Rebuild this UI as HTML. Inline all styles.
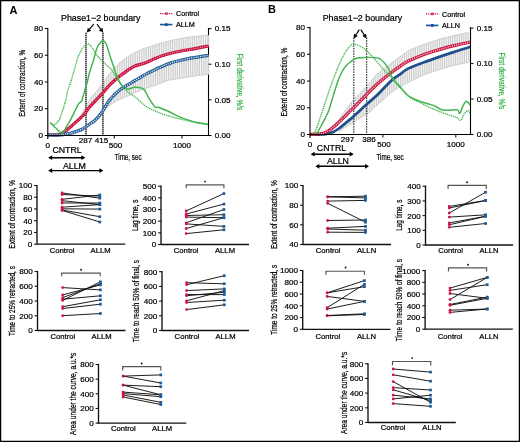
<!DOCTYPE html>
<html><head><meta charset="utf-8"><style>
html,body{margin:0;padding:0;background:#fff;}
body{width:520px;height:442px;overflow:hidden;font-family:"Liberation Sans", sans-serif;}
svg{display:block;will-change:transform;}
</style></head><body>
<svg xmlns="http://www.w3.org/2000/svg" width="520" height="442" viewBox="0 0 520 442" font-family='"Liberation Sans", sans-serif'>
<rect x="0" y="0" width="520" height="442" fill="#fff"/>
<text x="9.6" y="13.9" font-size="11" text-anchor="start" fill="#000" font-weight="bold">A</text>
<text x="267.9" y="12.9" font-size="11" text-anchor="start" fill="#000" font-weight="bold">B</text>
<line x1="208.5" y1="28" x2="208.5" y2="136" stroke="#000" stroke-width="1.1"/>
<path d="M78 120.5 L80.2 116.43 L82.4 112.37 L84.6 108.63 L86.8 104.93 L89 101.2 L91.2 97.43 L93.4 94.8 L95.6 92.6 L97.8 89.89 L100 86.95 L102.2 84 L104.4 80.84 L106.6 77.51 L108.8 74.57 L111 71.94 L113.2 69.32 L115.4 67.1 L117.6 64.9 L119.8 62.87 L122 61.1 L124.2 59.32 L126.4 57.75 L128.6 56.21 L130.8 54.77 L133 53.58 L135.2 52.41 L137.4 51.39 L139.6 50.37 L141.8 49.34 L144 48.42 L146.2 47.75 L148.4 47.08 L150.6 46.39 L152.8 45.63 L155 44.88 L157.2 44.24 L159.4 43.67 L161.6 43.1 L163.8 42.48 L166 41.85 L168.2 41.21 L170.4 40.58 L172.6 40.03 L174.8 39.63 L177 39.23 L179.2 38.82 L181.4 38.42 L183.6 38.02 L185.8 37.61 L188 37.25 L190.2 37.02 L192.4 36.79 L194.6 36.56 L196.8 36.33 L199 36.1 L201.2 35.87 L203.4 35.64 L205.6 35.41 L207.8 35.18 L207.8 46.15 L205.6 46.57 L203.4 46.99 L201.2 47.41 L199 47.84 L196.8 48.26 L194.6 48.67 L192.4 49.05 L190.2 49.43 L188 49.81 L185.8 50.19 L183.6 50.58 L181.4 50.96 L179.2 51.37 L177 51.85 L174.8 52.33 L172.6 52.8 L170.4 53.37 L168.2 54.01 L166 54.64 L163.8 55.27 L161.6 56.03 L159.4 56.85 L157.2 57.68 L155 58.56 L152.8 59.54 L150.6 60.53 L148.4 61.45 L146.2 62.35 L144 63.25 L141.8 63.98 L139.6 64.63 L137.4 65.29 L135.2 65.94 L133 67.12 L130.8 68.36 L128.6 69.81 L126.4 71.35 L124.2 72.89 L122 74.52 L119.8 76.14 L117.6 77.95 L115.4 79.89 L113.2 81.84 L111 83.78 L108.8 86.11 L106.6 88.61 L104.4 91.07 L102.2 93.47 L100 95.86 L97.8 98.23 L95.6 100.58 L93.4 102.94 L91.2 105.34 L89 107.83 L86.8 110.74 L84.6 113.53 L82.4 116.18 L80.2 118.19 L78 120.19 Z" fill="#f4f4f4"/>
<path d="M78 120.5V120.19M80.2 116.43V118.19M82.4 112.37V116.18M84.6 108.63V113.53M86.8 104.93V110.74M89 101.2V107.83M91.2 97.43V105.34M93.4 94.8V102.94M95.6 92.6V100.58M97.8 89.89V98.23M100 86.95V95.86M102.2 84V93.47M104.4 80.84V91.07M106.6 77.51V88.61M108.8 74.57V86.11M111 71.94V83.78M113.2 69.32V81.84M115.4 67.1V79.89M117.6 64.9V77.95M119.8 62.87V76.14M122 61.1V74.52M124.2 59.32V72.89M126.4 57.75V71.35M128.6 56.21V69.81M130.8 54.77V68.36M133 53.58V67.12M135.2 52.41V65.94M137.4 51.39V65.29M139.6 50.37V64.63M141.8 49.34V63.98M144 48.42V63.25M146.2 47.75V62.35M148.4 47.08V61.45M150.6 46.39V60.53M152.8 45.63V59.54M155 44.88V58.56M157.2 44.24V57.68M159.4 43.67V56.85M161.6 43.1V56.03M163.8 42.48V55.27M166 41.85V54.64M168.2 41.21V54.01M170.4 40.58V53.37M172.6 40.03V52.8M174.8 39.63V52.33M177 39.23V51.85M179.2 38.82V51.37M181.4 38.42V50.96M183.6 38.02V50.58M185.8 37.61V50.19M188 37.25V49.81M190.2 37.02V49.43M192.4 36.79V49.05M194.6 36.56V48.67M196.8 36.33V48.26M199 36.1V47.84M201.2 35.87V47.41M203.4 35.64V46.99M205.6 35.41V46.57M207.8 35.18V46.15" stroke="#c9c9c9" stroke-width="1.0" fill="none"/>
<path d="M78 120.5 C79.1 118.52 82.4 112.48 84.6 108.63 C86.8 104.79 89 100.55 91.2 97.43 C93.4 94.31 95.6 92.66 97.8 89.89 C100 87.13 102.2 83.83 104.4 80.84 C106.6 77.84 108.8 74.6 111 71.94 C113.2 69.29 115.4 67 117.6 64.9 C119.8 62.8 122 61.01 124.2 59.32 C126.4 57.64 128.6 56.1 130.8 54.77 C133 53.45 135.2 52.45 137.4 51.39 C139.6 50.33 141.8 49.25 144 48.42 C146.2 47.59 148.4 47.09 150.6 46.39 C152.8 45.7 155 44.89 157.2 44.24 C159.4 43.59 161.6 43.09 163.8 42.48 C166 41.87 168.2 41.12 170.4 40.58 C172.6 40.03 174.8 39.65 177 39.23 C179.2 38.8 181.4 38.38 183.6 38.02 C185.8 37.65 188 37.3 190.2 37.02 C192.4 36.74 194.6 36.56 196.8 36.33 C199 36.1 201.57 35.83 203.4 35.64 C205.23 35.45 207.07 35.26 207.8 35.18" fill="none" stroke="#c2c2c2" stroke-width="0.7"/>
<path d="M96 119.62 L98.2 116.59 L100.4 113.55 L102.6 111.45 L104.8 109.56 L107 107.69 L109.2 105.91 L111.4 104.13 L113.6 102.64 L115.8 101.35 L118 100.06 L120.2 99.15 L122.4 98.26 L124.6 97.38 L126.8 96.51 L129 95.64 L131.2 94.6 L133.4 93.5 L135.6 92.42 L137.8 91.53 L140 90.64 L142.2 89.76 L144.4 88.89 L146.6 88.02 L148.8 87.36 L151 86.74 L153.2 86.11 L155.4 85.44 L157.6 84.56 L159.8 83.67 L162 82.79 L164.2 81.91 L166.4 81.02 L168.6 80.34 L170.8 79.95 L173 79.56 L175.2 79.17 L177.4 78.79 L179.6 78.4 L181.8 78.01 L184 77.62 L186.2 77.23 L188.4 76.88 L190.6 76.58 L192.8 76.29 L195 75.99 L197.2 75.7 L199.4 75.4 L201.6 75.11 L203.8 74.81 L206 74.51 L208.2 74.3 L208.2 55.37 L206 55.73 L203.8 56.1 L201.6 56.46 L199.4 56.83 L197.2 57.19 L195 57.56 L192.8 57.92 L190.6 58.29 L188.4 58.65 L186.2 59.11 L184 59.64 L181.8 60.17 L179.6 60.7 L177.4 61.23 L175.2 61.76 L173 62.29 L170.8 62.96 L168.6 63.85 L166.4 64.73 L164.2 65.61 L162 66.5 L159.8 67.4 L157.6 68.45 L155.4 69.51 L153.2 70.56 L151 71.62 L148.8 72.68 L146.6 73.78 L144.4 75.07 L142.2 76.36 L140 77.63 L137.8 78.89 L135.6 80.16 L133.4 81.47 L131.2 82.8 L129 84.13 L126.8 85.46 L124.6 86.8 L122.4 88.31 L120.2 89.81 L118 91.52 L115.8 93.52 L113.6 95.53 L111.4 98.06 L109.2 100.67 L107 103.98 L104.8 107.62 L102.6 111.13 L100.4 114.07 L98.2 116.9 L96 119.1 Z" fill="#f4f4f4"/>
<path d="M96 119.62V119.1M98.2 116.59V116.9M100.4 113.55V114.07M102.6 111.45V111.13M104.8 109.56V107.62M107 107.69V103.98M109.2 105.91V100.67M111.4 104.13V98.06M113.6 102.64V95.53M115.8 101.35V93.52M118 100.06V91.52M120.2 99.15V89.81M122.4 98.26V88.31M124.6 97.38V86.8M126.8 96.51V85.46M129 95.64V84.13M131.2 94.6V82.8M133.4 93.5V81.47M135.6 92.42V80.16M137.8 91.53V78.89M140 90.64V77.63M142.2 89.76V76.36M144.4 88.89V75.07M146.6 88.02V73.78M148.8 87.36V72.68M151 86.74V71.62M153.2 86.11V70.56M155.4 85.44V69.51M157.6 84.56V68.45M159.8 83.67V67.4M162 82.79V66.5M164.2 81.91V65.61M166.4 81.02V64.73M168.6 80.34V63.85M170.8 79.95V62.96M173 79.56V62.29M175.2 79.17V61.76M177.4 78.79V61.23M179.6 78.4V60.7M181.8 78.01V60.17M184 77.62V59.64M186.2 77.23V59.11M188.4 76.88V58.65M190.6 76.58V58.29M192.8 76.29V57.92M195 75.99V57.56M197.2 75.7V57.19M199.4 75.4V56.83M201.6 75.11V56.46M203.8 74.81V56.1M206 74.51V55.73M208.2 74.3V55.37" stroke="#c9c9c9" stroke-width="1.0" fill="none"/>
<path d="M96 119.62 C97.1 118.26 100.4 113.74 102.6 111.45 C104.8 109.17 107 107.6 109.2 105.91 C111.4 104.23 113.6 102.62 115.8 101.35 C118 100.07 120.2 99.22 122.4 98.26 C124.6 97.31 126.8 96.61 129 95.64 C131.2 94.66 133.4 93.4 135.6 92.42 C137.8 91.44 140 90.61 142.2 89.76 C144.4 88.92 146.6 88.08 148.8 87.36 C151 86.64 153.2 86.2 155.4 85.44 C157.6 84.68 159.8 83.64 162 82.79 C164.2 81.94 166.4 80.94 168.6 80.34 C170.8 79.74 173 79.56 175.2 79.17 C177.4 78.79 179.6 78.39 181.8 78.01 C184 77.63 186.2 77.21 188.4 76.88 C190.6 76.54 192.8 76.29 195 75.99 C197.2 75.7 199.4 75.39 201.6 75.11 C203.8 74.82 207.1 74.43 208.2 74.3 C209.3 74.17 208.2 74.3 208.2 74.3" fill="none" stroke="#c2c2c2" stroke-width="0.7"/>
<path d="M208.5 35.11V46.02M208.5 55.32V74.3" stroke="#cfcfcf" stroke-width="1.0" fill="none"/>
<line x1="86" y1="32.8" x2="86" y2="135.5" stroke="#b4b4b4" stroke-width="1.6"/>
<line x1="86" y1="32.8" x2="86" y2="135.5" stroke="#4a4a4a" stroke-width="1.6" stroke-dasharray="1.1 0.9"/>
<line x1="102.9" y1="32.8" x2="102.9" y2="135.5" stroke="#b4b4b4" stroke-width="1.6"/>
<line x1="102.9" y1="32.8" x2="102.9" y2="135.5" stroke="#4a4a4a" stroke-width="1.6" stroke-dasharray="1.1 0.9"/>
<path d="M47.5 135 C48.75 134.98 52.92 135 55 134.9 C57.08 134.8 58.22 135.07 60 134.4 C61.78 133.73 63.82 132.27 65.7 130.9 C67.58 129.53 69.42 127.83 71.3 126.2 C73.18 124.57 75.12 122.8 77 121.1 C78.88 119.4 81.1 117.55 82.6 116 C84.1 114.45 84.87 113.25 86 111.8 C87.13 110.35 88.08 108.87 89.4 107.3 C90.72 105.73 92.2 104.23 93.9 102.4 C95.6 100.57 97.72 98.33 99.6 96.3 C101.48 94.27 103.42 92.18 105.2 90.2 C106.98 88.22 108.02 86.63 110.3 84.4 C112.58 82.17 116.52 78.77 118.9 76.8 C121.28 74.83 122.72 73.95 124.6 72.6 C126.48 71.25 128.47 69.8 130.2 68.7 C131.93 67.6 132.8 66.87 135 66 C137.2 65.13 140.9 64.37 143.4 63.5 C145.9 62.63 147.93 61.68 150 60.8 C152.07 59.92 153.63 59.08 155.8 58.2 C157.97 57.32 160.35 56.37 163 55.5 C165.65 54.63 168.87 53.72 171.7 53 C174.53 52.28 177.37 51.72 180 51.2 C182.63 50.68 185 50.33 187.5 49.9 C190 49.47 191.48 49.25 195 48.6 C198.52 47.95 206.33 46.43 208.6 46" fill="none" stroke="#cc1440" stroke-width="3.2"/>
<path d="M47.5 135 C48.75 134.98 52.92 135 55 134.9 C57.08 134.8 58.22 135.07 60 134.4 C61.78 133.73 63.82 132.27 65.7 130.9 C67.58 129.53 69.42 127.83 71.3 126.2 C73.18 124.57 75.12 122.8 77 121.1 C78.88 119.4 81.1 117.55 82.6 116 C84.1 114.45 84.87 113.25 86 111.8 C87.13 110.35 88.08 108.87 89.4 107.3 C90.72 105.73 92.2 104.23 93.9 102.4 C95.6 100.57 97.72 98.33 99.6 96.3 C101.48 94.27 103.42 92.18 105.2 90.2 C106.98 88.22 108.02 86.63 110.3 84.4 C112.58 82.17 116.52 78.77 118.9 76.8 C121.28 74.83 122.72 73.95 124.6 72.6 C126.48 71.25 128.47 69.8 130.2 68.7 C131.93 67.6 132.8 66.87 135 66 C137.2 65.13 140.9 64.37 143.4 63.5 C145.9 62.63 147.93 61.68 150 60.8 C152.07 59.92 153.63 59.08 155.8 58.2 C157.97 57.32 160.35 56.37 163 55.5 C165.65 54.63 168.87 53.72 171.7 53 C174.53 52.28 177.37 51.72 180 51.2 C182.63 50.68 185 50.33 187.5 49.9 C190 49.47 191.48 49.25 195 48.6 C198.52 47.95 206.33 46.43 208.6 46" fill="none" stroke="#fff" stroke-width="0.9" stroke-dasharray="0.8 1.4" opacity="0.9"/>
<path d="M47.5 135 C49.58 135 56.97 135.15 60 135 C63.03 134.85 63.82 134.43 65.7 134.1 C67.58 133.77 69.42 133.47 71.3 133 C73.18 132.53 75.12 131.97 77 131.3 C78.88 130.63 81.1 129.75 82.6 129 C84.1 128.25 84.87 127.6 86 126.8 C87.13 126 88.08 125.13 89.4 124.2 C90.72 123.27 92.38 122.47 93.9 121.2 C95.42 119.93 96.98 118.37 98.5 116.6 C100.02 114.83 101.33 113.12 103 110.6 C104.67 108.08 106.78 103.97 108.5 101.5 C110.22 99.03 111.57 97.6 113.3 95.8 C115.03 94 117.02 92.2 118.9 90.7 C120.78 89.2 122.72 88.02 124.6 86.8 C126.48 85.58 128.47 84.45 130.2 83.4 C131.93 82.35 133.18 81.57 135 80.5 C136.82 79.43 139.12 78.15 141.1 77 C143.08 75.85 144.97 74.63 146.9 73.6 C148.83 72.57 150.52 71.85 152.7 70.8 C154.88 69.75 156.83 68.67 160 67.3 C163.17 65.93 167.12 64.02 171.7 62.6 C176.28 61.18 181.35 60.02 187.5 58.8 C193.65 57.58 205.08 55.88 208.6 55.3" fill="none" stroke="#1e5a96" stroke-width="3.2"/>
<path d="M47.5 135 C49.58 135 56.97 135.15 60 135 C63.03 134.85 63.82 134.43 65.7 134.1 C67.58 133.77 69.42 133.47 71.3 133 C73.18 132.53 75.12 131.97 77 131.3 C78.88 130.63 81.1 129.75 82.6 129 C84.1 128.25 84.87 127.6 86 126.8 C87.13 126 88.08 125.13 89.4 124.2 C90.72 123.27 92.38 122.47 93.9 121.2 C95.42 119.93 96.98 118.37 98.5 116.6 C100.02 114.83 101.33 113.12 103 110.6 C104.67 108.08 106.78 103.97 108.5 101.5 C110.22 99.03 111.57 97.6 113.3 95.8 C115.03 94 117.02 92.2 118.9 90.7 C120.78 89.2 122.72 88.02 124.6 86.8 C126.48 85.58 128.47 84.45 130.2 83.4 C131.93 82.35 133.18 81.57 135 80.5 C136.82 79.43 139.12 78.15 141.1 77 C143.08 75.85 144.97 74.63 146.9 73.6 C148.83 72.57 150.52 71.85 152.7 70.8 C154.88 69.75 156.83 68.67 160 67.3 C163.17 65.93 167.12 64.02 171.7 62.6 C176.28 61.18 181.35 60.02 187.5 58.8 C193.65 57.58 205.08 55.88 208.6 55.3" fill="none" stroke="#fff" stroke-width="1.4" stroke-dasharray="1.1 1.1" opacity="0.9"/>
<path d="M50.4 122.6 C50.83 122.88 52.2 124 53 124.3 C53.8 124.6 54.45 124.78 55.2 124.4 C55.95 124.02 56.7 123.02 57.5 122 C58.3 120.98 59.02 120.62 60 118.3 C60.98 115.98 62.45 111.12 63.4 108.1 C64.35 105.08 64.95 103.22 65.7 100.2 C66.45 97.18 66.97 93.37 67.9 90 C68.83 86.63 70.17 83.58 71.3 80 C72.43 76.42 73.57 72.32 74.7 68.5 C75.83 64.68 76.78 60.5 78.1 57.1 C79.42 53.7 81.1 50.25 82.6 48.1 C84.1 45.95 85.97 44.78 87.1 44.2 C88.23 43.62 88.52 43.97 89.4 44.6 C90.28 45.23 91.25 46.35 92.4 48 C93.55 49.65 94.7 52.38 96.3 54.5 C97.9 56.62 100.12 58.82 102 60.7 C103.88 62.58 105.92 64.18 107.6 65.8 C109.28 67.42 110.78 68.7 112.1 70.4 C113.42 72.1 114.37 74.12 115.5 76 C116.63 77.88 117.57 79.82 118.9 81.7 C120.23 83.58 121.98 85.6 123.5 87.3 C125.02 89 126.5 90.58 128 91.9 C129.5 93.22 131.33 94.37 132.5 95.2 C133.67 96.03 133.57 95.72 135 96.9 C136.43 98.08 139.12 100.63 141.1 102.3 C143.08 103.97 144.58 105.45 146.9 106.9 C149.22 108.35 151.53 109.52 155 111 C158.47 112.48 162.38 114.2 167.7 115.8 C173.02 117.4 180.52 119.2 186.9 120.6 C193.28 122 202.48 123.57 206 124.2 C209.52 124.83 207.67 124.37 208 124.4" fill="none" stroke="#3db54a" stroke-width="1.4" stroke-dasharray="1.2 0.8"/>
<path d="M50.4 122.8 C51.33 123.7 54.07 126.43 56 128.2 C57.93 129.97 60.2 133.73 62 133.4 C63.8 133.07 65.25 128.72 66.8 126.2 C68.35 123.68 69.8 121.13 71.3 118.3 C72.8 115.47 74.57 111.65 75.8 109.2 C77.03 106.75 77.75 104.92 78.7 103.6 C79.65 102.28 80.85 102.25 81.5 101.3 C82.15 100.35 82.13 99.4 82.6 97.9 C83.07 96.4 83.88 93.78 84.3 92.3 C84.72 90.82 84.6 90.72 85.1 89 C85.6 87.28 86.57 84.73 87.3 82 C88.03 79.27 88.47 76.23 89.5 72.6 C90.53 68.97 92.37 63.97 93.5 60.2 C94.63 56.43 95.47 52.53 96.3 50 C97.13 47.47 97.77 46.25 98.5 45 C99.23 43.75 99.95 43.22 100.7 42.5 C101.45 41.78 102.12 40.53 103 40.7 C103.88 40.87 105.13 41.95 106 43.5 C106.87 45.05 107.37 47.42 108.2 50 C109.03 52.58 110.07 56.17 111 59 C111.93 61.83 112.85 64.17 113.8 67 C114.75 69.83 115.65 73.37 116.7 76 C117.75 78.63 118.97 80.92 120.1 82.8 C121.23 84.68 122.37 86.27 123.5 87.3 C124.63 88.33 125.78 88.8 126.9 89 C128.02 89.2 128.88 88.78 130.2 88.5 C131.52 88.22 133.03 87.4 134.8 87.3 C136.57 87.2 139.17 87.42 140.8 87.9 C142.43 88.38 143.2 88.42 144.6 90.2 C146 91.98 147.47 95.82 149.2 98.6 C150.93 101.38 153.52 105.45 155 106.9 C156.48 108.35 155.98 106.62 158.1 107.3 C160.22 107.98 164.5 109.58 167.7 111 C170.9 112.42 174.1 114.37 177.3 115.8 C180.5 117.23 183.7 118.48 186.9 119.6 C190.1 120.72 192.98 121.7 196.5 122.5 C200.02 123.3 206.08 124.08 208 124.4" fill="none" stroke="#3db54a" stroke-width="1.45"/>
<line x1="47.8" y1="28" x2="47.8" y2="139" stroke="#000" stroke-width="1.1"/>
<line x1="47.8" y1="135.5" x2="208.5" y2="135.5" stroke="#000" stroke-width="1.1"/>
<line x1="44.9" y1="28.5" x2="47.8" y2="28.5" stroke="#000" stroke-width="1"/>
<text x="42.9" y="31.1" font-size="8.1" text-anchor="end" fill="#000" font-weight="normal" stroke="#000" stroke-width="0.22">80</text>
<line x1="44.9" y1="55.25" x2="47.8" y2="55.25" stroke="#000" stroke-width="1"/>
<text x="42.9" y="57.85" font-size="8.1" text-anchor="end" fill="#000" font-weight="normal" stroke="#000" stroke-width="0.22">60</text>
<line x1="44.9" y1="82" x2="47.8" y2="82" stroke="#000" stroke-width="1"/>
<text x="42.9" y="84.6" font-size="8.1" text-anchor="end" fill="#000" font-weight="normal" stroke="#000" stroke-width="0.22">40</text>
<line x1="44.9" y1="108.75" x2="47.8" y2="108.75" stroke="#000" stroke-width="1"/>
<text x="42.9" y="111.35" font-size="8.1" text-anchor="end" fill="#000" font-weight="normal" stroke="#000" stroke-width="0.22">20</text>
<line x1="44.9" y1="135.5" x2="47.8" y2="135.5" stroke="#000" stroke-width="1"/>
<text x="42.9" y="138.1" font-size="8.1" text-anchor="end" fill="#000" font-weight="normal" stroke="#000" stroke-width="0.22">0</text>
<line x1="208.5" y1="28.6" x2="211.5" y2="28.6" stroke="#000" stroke-width="1"/>
<text x="214.7" y="31.3" font-size="8.1" text-anchor="start" fill="#000" font-weight="normal" stroke="#000" stroke-width="0.22">0.15</text>
<line x1="208.5" y1="64.2" x2="211.5" y2="64.2" stroke="#000" stroke-width="1"/>
<text x="214.7" y="66.9" font-size="8.1" text-anchor="start" fill="#000" font-weight="normal" stroke="#000" stroke-width="0.22">0.10</text>
<line x1="208.5" y1="99.8" x2="211.5" y2="99.8" stroke="#000" stroke-width="1"/>
<text x="214.7" y="102.5" font-size="8.1" text-anchor="start" fill="#000" font-weight="normal" stroke="#000" stroke-width="0.22">0.05</text>
<line x1="208.5" y1="135.5" x2="211.5" y2="135.5" stroke="#000" stroke-width="1"/>
<text x="214.7" y="138.2" font-size="8.1" text-anchor="start" fill="#000" font-weight="normal" stroke="#000" stroke-width="0.22">0.00</text>
<line x1="114.25" y1="135.5" x2="114.25" y2="138.5" stroke="#000" stroke-width="1"/>
<text x="115.45" y="147.7" font-size="8.1" text-anchor="middle" fill="#000" font-weight="normal" stroke="#000" stroke-width="0.22">500</text>
<line x1="182" y1="135.5" x2="182" y2="138.5" stroke="#000" stroke-width="1"/>
<text x="182" y="147.7" font-size="8.1" text-anchor="middle" fill="#000" font-weight="normal" stroke="#000" stroke-width="0.22">1000</text>
<text x="47.8" y="147.5" font-size="8.1" text-anchor="middle" fill="#000" font-weight="normal" stroke="#000" stroke-width="0.22">0</text>
<text x="85.6" y="142.6" font-size="8.1" text-anchor="middle" fill="#000" font-weight="normal" stroke="#000" stroke-width="0.22">287</text>
<text x="101.5" y="142.6" font-size="8.1" text-anchor="middle" fill="#000" font-weight="normal" stroke="#000" stroke-width="0.22">415</text>
<text x="0" y="0" font-size="8.6" text-anchor="middle" fill="#000" font-weight="normal" stroke="#000" stroke-width="0.22" transform="translate(128.1 160) scale(0.73 1)">Time, sec</text>
<text x="0" y="0" font-size="8.7" text-anchor="middle" fill="#000" font-weight="normal" stroke="#000" stroke-width="0.22" transform="translate(25.2 83.35) rotate(-90) scale(0.73 1)">Extent of contraction, %</text>
<text x="0" y="0" font-size="8.7" text-anchor="middle" fill="#38b046" font-weight="normal" stroke="#38b046" stroke-width="0.22" transform="translate(237.2 81.9) rotate(90) scale(0.75 1)">First derivative, %/s</text>
<text x="61" y="21.2" font-size="8.85" text-anchor="start" fill="#000" font-weight="normal" stroke="#000" stroke-width="0.22">Phase1−2 boundary</text>
<line x1="93.7" y1="24.2" x2="89.21" y2="29.66" stroke="#000" stroke-width="1.15"/>
<path d="M86.8 32.6L87.79 27.85L91.27 30.71Z" fill="#000"/>
<line x1="97" y1="24.2" x2="100.94" y2="29.54" stroke="#000" stroke-width="1.15"/>
<path d="M103.2 32.6L98.84 30.48L102.46 27.8Z" fill="#000"/>
<text x="52.4" y="153.1" font-size="8.8" text-anchor="start" fill="#000" font-weight="normal" stroke="#000" stroke-width="0.22">CNTRL</text>
<line x1="49.7" y1="157.7" x2="83.8" y2="157.7" stroke="#000" stroke-width="1.4"/>
<path d="M48.2 157.7L52.2 155.3L52.2 160.1Z" fill="#000"/>
<path d="M85.3 157.7L81.3 155.3L81.3 160.1Z" fill="#000"/>
<text x="62.9" y="169" font-size="8.8" text-anchor="start" fill="#000" font-weight="normal" stroke="#000" stroke-width="0.22">ALLM</text>
<line x1="49.7" y1="170.6" x2="101.9" y2="170.6" stroke="#000" stroke-width="1.4"/>
<path d="M48.2 170.6L52.2 168.2L52.2 173Z" fill="#000"/>
<path d="M103.4 170.6L99.4 168.2L99.4 173Z" fill="#000"/>
<line x1="160" y1="13.6" x2="173" y2="13.6" stroke="#cc1440" stroke-width="1.15" stroke-dasharray="1 0.8"/>
<circle cx="166.4" cy="13.6" r="1.45" fill="#cc1440"/>
<circle cx="166.4" cy="13.6" r="0.45" fill="#fff"/>
<line x1="160" y1="24.6" x2="172.4" y2="24.6" stroke="#1e5a96" stroke-width="1.7"/>
<circle cx="166.3" cy="24.6" r="1.6" fill="#1a4f88"/>
<text x="176" y="16.2" font-size="7.2" text-anchor="start" fill="#000" font-weight="normal" stroke="#000" stroke-width="0.22">Control</text>
<text x="176" y="27.2" font-size="7.2" text-anchor="start" fill="#000" font-weight="normal" stroke="#000" stroke-width="0.22">ALLM</text>
<path d="M334 125.4 L336.2 122.97 L338.4 120.55 L340.6 117.46 L342.8 114.18 L345 110.94 L347.2 107.83 L349.4 104.73 L351.6 101.97 L353.8 99.4 L356 97.03 L358.2 94.89 L360.4 92.75 L362.6 90.61 L364.8 88.47 L367 86.33 L369.2 84.19 L371.4 81.18 L373.6 77.99 L375.8 74.79 L378 73.1 L380.2 71.55 L382.4 70.01 L384.6 68.46 L386.8 66.75 L389 64.95 L391.2 63.15 L393.4 61.57 L395.6 60.1 L397.8 58.52 L400 56.85 L402.2 55.19 L404.4 53.52 L406.6 51.86 L408.8 50.47 L411 49.56 L413.2 48.66 L415.4 47.75 L417.6 46.84 L419.8 45.93 L422 45.03 L424.2 44.14 L426.4 43.42 L428.6 42.71 L430.8 41.99 L433 41.28 L435.2 40.56 L437.4 39.85 L439.6 39.13 L441.8 38.54 L444 37.99 L446.2 37.43 L448.4 36.87 L450.6 36.31 L452.8 35.76 L455 35.2 L457.2 34.76 L459.4 34.32 L461.6 33.88 L463.8 33.44 L466 33 L468.2 32.56 L468.2 42.61 L466 43.07 L463.8 43.54 L461.6 44 L459.4 44.47 L457.2 44.93 L455 45.4 L452.8 45.99 L450.6 46.57 L448.4 47.16 L446.2 47.75 L444 48.33 L441.8 48.92 L439.6 49.53 L437.4 50.21 L435.2 50.9 L433 51.59 L430.8 52.28 L428.6 52.96 L426.4 53.65 L424.2 54.34 L422 55.25 L419.8 56.19 L417.6 57.12 L415.4 58.06 L413.2 58.99 L411 59.93 L408.8 60.86 L406.6 62.09 L404.4 63.5 L402.2 64.9 L400 66.3 L397.8 67.87 L395.6 69.44 L393.4 71 L391.2 72.63 L389 74.36 L386.8 76.1 L384.6 77.87 L382.4 79.71 L380.2 81.54 L378 83.38 L375.8 85.48 L373.6 87.66 L371.4 89.84 L369.2 92.02 L367 94.2 L364.8 96.45 L362.6 98.7 L360.4 100.95 L358.2 103.21 L356 105.46 L353.8 107.63 L351.6 109.63 L349.4 111.71 L347.2 113.95 L345 116.19 L342.8 118.37 L340.6 120.53 L338.4 122.66 L336.2 124.66 L334 126.66 Z" fill="#f4f4f4"/>
<path d="M334 125.4V126.66M336.2 122.97V124.66M338.4 120.55V122.66M340.6 117.46V120.53M342.8 114.18V118.37M345 110.94V116.19M347.2 107.83V113.95M349.4 104.73V111.71M351.6 101.97V109.63M353.8 99.4V107.63M356 97.03V105.46M358.2 94.89V103.21M360.4 92.75V100.95M362.6 90.61V98.7M364.8 88.47V96.45M367 86.33V94.2M369.2 84.19V92.02M371.4 81.18V89.84M373.6 77.99V87.66M375.8 74.79V85.48M378 73.1V83.38M380.2 71.55V81.54M382.4 70.01V79.71M384.6 68.46V77.87M386.8 66.75V76.1M389 64.95V74.36M391.2 63.15V72.63M393.4 61.57V71M395.6 60.1V69.44M397.8 58.52V67.87M400 56.85V66.3M402.2 55.19V64.9M404.4 53.52V63.5M406.6 51.86V62.09M408.8 50.47V60.86M411 49.56V59.93M413.2 48.66V58.99M415.4 47.75V58.06M417.6 46.84V57.12M419.8 45.93V56.19M422 45.03V55.25M424.2 44.14V54.34M426.4 43.42V53.65M428.6 42.71V52.96M430.8 41.99V52.28M433 41.28V51.59M435.2 40.56V50.9M437.4 39.85V50.21M439.6 39.13V49.53M441.8 38.54V48.92M444 37.99V48.33M446.2 37.43V47.75M448.4 36.87V47.16M450.6 36.31V46.57M452.8 35.76V45.99M455 35.2V45.4M457.2 34.76V44.93M459.4 34.32V44.47M461.6 33.88V44M463.8 33.44V43.54M466 33V43.07M468.2 32.56V42.61" stroke="#c9c9c9" stroke-width="1.0" fill="none"/>
<path d="M334 125.4 C335.1 124.08 338.4 120.39 340.6 117.46 C342.8 114.54 345 110.84 347.2 107.83 C349.4 104.82 351.6 101.91 353.8 99.4 C356 96.89 358.2 94.93 360.4 92.75 C362.6 90.57 364.8 88.79 367 86.33 C369.2 83.87 371.4 80.45 373.6 77.99 C375.8 75.52 378 73.42 380.2 71.55 C382.4 69.68 384.6 68.42 386.8 66.75 C389 65.09 391.2 63.22 393.4 61.57 C395.6 59.92 397.8 58.47 400 56.85 C402.2 55.23 404.4 53.23 406.6 51.86 C408.8 50.49 411 49.64 413.2 48.66 C415.4 47.67 417.6 46.81 419.8 45.93 C422 45.06 424.2 44.2 426.4 43.42 C428.6 42.64 430.8 41.99 433 41.28 C435.2 40.56 437.4 39.77 439.6 39.13 C441.8 38.49 444 37.99 446.2 37.43 C448.4 36.87 450.6 36.28 452.8 35.76 C455 35.24 457.2 34.78 459.4 34.32 C461.6 33.86 464.53 33.29 466 33 C467.47 32.71 467.83 32.63 468.2 32.56" fill="none" stroke="#c2c2c2" stroke-width="0.7"/>
<path d="M339 131.83 L341.2 130.35 L343.4 128.87 L345.6 127.43 L347.8 126.08 L350 124.72 L352.2 123.18 L354.4 121.63 L356.6 120.22 L358.8 118.88 L361 117.54 L363.2 116.2 L365.4 114.86 L367.6 113.52 L369.8 112.1 L372 109.94 L374.2 107.77 L376.4 105.66 L378.6 103.79 L380.8 101.91 L383 100.04 L385.2 98.17 L387.4 96.18 L389.6 94.18 L391.8 92.18 L394 90.67 L396.2 89.2 L398.4 87.93 L400.6 86.68 L402.8 85.44 L405 84.2 L407.2 82.95 L409.4 81.83 L411.6 80.77 L413.8 79.71 L416 78.65 L418.2 77.59 L420.4 76.53 L422.6 75.47 L424.8 74.52 L427 73.75 L429.2 72.98 L431.4 72.21 L433.6 71.44 L435.8 70.67 L438 69.9 L440.2 69.15 L442.4 68.56 L444.6 67.97 L446.8 67.39 L449 66.8 L451.2 66.21 L453.4 65.63 L455.6 65.08 L457.8 64.62 L460 64.17 L462.2 63.71 L464.4 63.26 L466.6 62.8 L468.8 62.34 L468.8 47.35 L466.6 48.03 L464.4 48.71 L462.2 49.38 L460 50.06 L457.8 50.74 L455.6 51.42 L453.4 52.13 L451.2 52.87 L449 53.6 L446.8 54.33 L444.6 55.07 L442.4 55.8 L440.2 56.53 L438 57.3 L435.8 58.07 L433.6 58.84 L431.4 59.61 L429.2 60.38 L427 61.15 L424.8 61.92 L422.6 62.76 L420.4 63.64 L418.2 64.52 L416 65.4 L413.8 66.28 L411.6 67.16 L409.4 68.04 L407.2 69.17 L405 70.74 L402.8 72.31 L400.6 73.87 L398.4 75.44 L396.2 77.01 L394 78.58 L391.8 80.2 L389.6 82.36 L387.4 84.53 L385.2 86.71 L383 89.02 L380.8 91.33 L378.6 93.64 L376.4 95.77 L374.2 97.7 L372 99.64 L369.8 101.57 L367.6 103.51 L365.4 105.5 L363.2 107.54 L361 109.58 L358.8 111.62 L356.6 113.65 L354.4 115.69 L352.2 117.63 L350 119.56 L347.8 121.33 L345.6 123.1 L343.4 124.87 L341.2 126.64 L339 128.42 Z" fill="#f4f4f4"/>
<path d="M339 131.83V128.42M341.2 130.35V126.64M343.4 128.87V124.87M345.6 127.43V123.1M347.8 126.08V121.33M350 124.72V119.56M352.2 123.18V117.63M354.4 121.63V115.69M356.6 120.22V113.65M358.8 118.88V111.62M361 117.54V109.58M363.2 116.2V107.54M365.4 114.86V105.5M367.6 113.52V103.51M369.8 112.1V101.57M372 109.94V99.64M374.2 107.77V97.7M376.4 105.66V95.77M378.6 103.79V93.64M380.8 101.91V91.33M383 100.04V89.02M385.2 98.17V86.71M387.4 96.18V84.53M389.6 94.18V82.36M391.8 92.18V80.2M394 90.67V78.58M396.2 89.2V77.01M398.4 87.93V75.44M400.6 86.68V73.87M402.8 85.44V72.31M405 84.2V70.74M407.2 82.95V69.17M409.4 81.83V68.04M411.6 80.77V67.16M413.8 79.71V66.28M416 78.65V65.4M418.2 77.59V64.52M420.4 76.53V63.64M422.6 75.47V62.76M424.8 74.52V61.92M427 73.75V61.15M429.2 72.98V60.38M431.4 72.21V59.61M433.6 71.44V58.84M435.8 70.67V58.07M438 69.9V57.3M440.2 69.15V56.53M442.4 68.56V55.8M444.6 67.97V55.07M446.8 67.39V54.33M449 66.8V53.6M451.2 66.21V52.87M453.4 65.63V52.13M455.6 65.08V51.42M457.8 64.62V50.74M460 64.17V50.06M462.2 63.71V49.38M464.4 63.26V48.71M466.6 62.8V48.03M468.8 62.34V47.35" stroke="#c9c9c9" stroke-width="1.0" fill="none"/>
<path d="M339 131.83 C340.1 131.1 343.4 128.87 345.6 127.43 C347.8 125.99 350 124.61 352.2 123.18 C354.4 121.76 356.6 120.27 358.8 118.88 C361 117.5 363.2 116.35 365.4 114.86 C367.6 113.37 369.8 111.78 372 109.94 C374.2 108.09 376.4 105.75 378.6 103.79 C380.8 101.83 383 100.1 385.2 98.17 C387.4 96.24 389.6 93.89 391.8 92.18 C394 90.47 396.2 89.26 398.4 87.93 C400.6 86.6 402.8 85.39 405 84.2 C407.2 83 409.4 81.87 411.6 80.77 C413.8 79.67 416 78.63 418.2 77.59 C420.4 76.55 422.6 75.42 424.8 74.52 C427 73.62 429.2 72.98 431.4 72.21 C433.6 71.44 435.8 70.61 438 69.9 C440.2 69.19 442.4 68.59 444.6 67.97 C446.8 67.36 449 66.77 451.2 66.21 C453.4 65.65 455.6 65.11 457.8 64.62 C460 64.13 462.57 63.63 464.4 63.26 C466.23 62.88 468.07 62.5 468.8 62.34" fill="none" stroke="#c2c2c2" stroke-width="0.7"/>
<line x1="353.8" y1="37.6" x2="353.8" y2="134.5" stroke="#111" stroke-width="1" stroke-dasharray="1.6 1.0"/>
<line x1="366.7" y1="37.6" x2="366.7" y2="134.5" stroke="#111" stroke-width="1" stroke-dasharray="1.6 1.0"/>
<path d="M310 134.5 C312 134.5 319.07 134.65 322 134.5 C324.93 134.35 325.72 134.03 327.6 133.6 C329.48 133.17 331.42 132.75 333.3 131.9 C335.18 131.05 337.02 129.83 338.9 128.5 C340.78 127.17 342.72 125.42 344.6 123.9 C346.48 122.38 348.55 120.78 350.2 119.4 C351.85 118.02 351.75 118.12 354.5 115.6 C357.25 113.08 362.87 107.77 366.7 104.3 C370.53 100.83 374.38 97.77 377.5 94.8 C380.62 91.83 382.98 88.97 385.4 86.5 C387.82 84.03 389.57 82.03 392 80 C394.43 77.97 397.33 76.2 400 74.3 C402.67 72.4 404 70.62 408 68.6 C412 66.58 418.67 64.2 424 62.2 C429.33 60.2 434.83 58.37 440 56.6 C445.17 54.83 449.9 53.23 455 51.6 C460.1 49.97 468 47.6 470.6 46.8" fill="none" stroke="#1f4f8c" stroke-width="2.7"/>
<path d="M310 134.4 C311.05 134.37 314.3 134.35 316.3 134.2 C318.3 134.05 320.12 133.98 322 133.5 C323.88 133.02 325.72 132.33 327.6 131.3 C329.48 130.27 331.42 128.82 333.3 127.3 C335.18 125.78 337.02 123.98 338.9 122.2 C340.78 120.42 342.72 118.48 344.6 116.6 C346.48 114.72 348.55 112.5 350.2 110.9 C351.85 109.3 351.75 109.73 354.5 107 C357.25 104.27 362.87 98.37 366.7 94.5 C370.53 90.63 374.38 86.68 377.5 83.8 C380.62 80.92 382.98 79.17 385.4 77.2 C387.82 75.23 389.57 73.82 392 72 C394.43 70.18 397.33 68.1 400 66.3 C402.67 64.5 404 63.18 408 61.2 C412 59.22 418.67 56.37 424 54.4 C429.33 52.43 434.83 50.9 440 49.4 C445.17 47.9 449.9 46.62 455 45.4 C460.1 44.18 468 42.65 470.6 42.1" fill="none" stroke="#cc1440" stroke-width="3.2"/>
<path d="M310 134.4 C311.05 134.37 314.3 134.35 316.3 134.2 C318.3 134.05 320.12 133.98 322 133.5 C323.88 133.02 325.72 132.33 327.6 131.3 C329.48 130.27 331.42 128.82 333.3 127.3 C335.18 125.78 337.02 123.98 338.9 122.2 C340.78 120.42 342.72 118.48 344.6 116.6 C346.48 114.72 348.55 112.5 350.2 110.9 C351.85 109.3 351.75 109.73 354.5 107 C357.25 104.27 362.87 98.37 366.7 94.5 C370.53 90.63 374.38 86.68 377.5 83.8 C380.62 80.92 382.98 79.17 385.4 77.2 C387.82 75.23 389.57 73.82 392 72 C394.43 70.18 397.33 68.1 400 66.3 C402.67 64.5 404 63.18 408 61.2 C412 59.22 418.67 56.37 424 54.4 C429.33 52.43 434.83 50.9 440 49.4 C445.17 47.9 449.9 46.62 455 45.4 C460.1 44.18 468 42.65 470.6 42.1" fill="none" stroke="#fff" stroke-width="1.3" stroke-dasharray="1.0 1.2" opacity="0.9"/>
<path d="M312.5 134.6 C312.83 134.27 313.75 133.87 314.5 132.6 C315.25 131.33 316.07 129.45 317 127 C317.93 124.55 318.73 121.97 320.1 117.9 C321.47 113.83 323.5 107.68 325.2 102.6 C326.9 97.52 328.6 92.2 330.3 87.4 C332 82.6 334.03 77.33 335.4 73.8 C336.77 70.27 337.57 68.42 338.5 66.2 C339.43 63.98 340.17 62.25 341 60.5 C341.83 58.75 342.55 57.42 343.5 55.7 C344.45 53.98 345.48 51.92 346.7 50.2 C347.92 48.48 349.55 46.38 350.8 45.4 C352.05 44.42 353.07 44.33 354.2 44.3 C355.33 44.27 356.63 44.9 357.6 45.2 C358.57 45.5 358.6 45.27 360 46.1 C361.4 46.93 363.87 48.38 366 50.2 C368.13 52.02 370.08 54.03 372.8 57 C375.52 59.97 379.4 64.75 382.3 68 C385.2 71.25 388.08 74.17 390.2 76.5 C392.32 78.83 393.37 80.17 395 82 C396.63 83.83 398.25 85.62 400 87.5 C401.75 89.38 403.65 91.52 405.5 93.3 C407.35 95.08 409.02 96.82 411.1 98.2 C413.18 99.58 415.93 100.57 418 101.6 C420.07 102.63 421.42 103.35 423.5 104.4 C425.58 105.45 427.95 106.75 430.5 107.9 C433.05 109.05 435.8 110.15 438.8 111.3 C441.8 112.45 445.5 113.77 448.5 114.8 C451.5 115.83 454.73 116.58 456.8 117.5 C458.87 118.42 459.63 120.98 460.9 120.3 C462.17 119.62 463.23 115.02 464.4 113.4 C465.57 111.78 466.92 110.63 467.9 110.6 C468.88 110.57 469.9 112.77 470.3 113.2" fill="none" stroke="#3db54a" stroke-width="1.4" stroke-dasharray="1.2 0.8"/>
<path d="M315.2 134.6 C315.67 134.05 316.9 132.95 318 131.3 C319.1 129.65 320.63 126.82 321.8 124.7 C322.97 122.58 323.87 120.88 325 118.6 C326.13 116.32 327.57 113.68 328.6 111 C329.63 108.32 330.35 105.3 331.2 102.5 C332.05 99.7 332.85 96.95 333.7 94.2 C334.55 91.45 335.45 88.57 336.3 86 C337.15 83.43 337.95 80.97 338.8 78.8 C339.65 76.63 340.55 74.68 341.4 73 C342.25 71.32 342.97 70.07 343.9 68.7 C344.83 67.33 345.98 65.88 347 64.8 C348.02 63.72 349.07 62.97 350 62.2 C350.93 61.43 351.57 60.85 352.6 60.2 C353.63 59.55 354.97 58.72 356.2 58.3 C357.43 57.88 357.73 57.85 360 57.7 C362.27 57.55 366.92 57.37 369.8 57.4 C372.68 57.43 375.48 57.55 377.3 57.9 C379.12 58.25 379.58 58.73 380.7 59.5 C381.82 60.27 382.78 61.08 384 62.5 C385.22 63.92 386.7 65.67 388 68 C389.3 70.33 390.63 74.25 391.8 76.5 C392.97 78.75 393.63 79.85 395 81.5 C396.37 83.15 398.02 84.2 400 86.4 C401.98 88.6 404.58 92.62 406.9 94.7 C409.22 96.78 411.58 97.75 413.9 98.9 C416.22 100.05 418.5 100.8 420.8 101.6 C423.1 102.4 425.4 103 427.7 103.7 C430 104.4 432.28 104.8 434.6 105.8 C436.92 106.8 439.28 108.95 441.6 109.7 C443.92 110.45 445.85 110.27 448.5 110.3 C451.15 110.33 455.62 109.38 457.5 109.9 C459.38 110.42 458.88 114.08 459.8 113.4 C460.72 112.72 461.88 107.82 463 105.8 C464.12 103.78 465.33 101.42 466.5 101.3 C467.67 101.18 469.42 104.47 470 105.1" fill="none" stroke="#3db54a" stroke-width="1.45"/>
<line x1="310" y1="27.1" x2="310" y2="138" stroke="#000" stroke-width="1.1"/>
<line x1="470.5" y1="27.1" x2="470.5" y2="135" stroke="#000" stroke-width="1.1"/>
<line x1="310" y1="134.5" x2="470.5" y2="134.5" stroke="#000" stroke-width="1.1"/>
<line x1="307.1" y1="27.6" x2="310" y2="27.6" stroke="#000" stroke-width="1"/>
<text x="305.1" y="30.2" font-size="8.1" text-anchor="end" fill="#000" font-weight="normal" stroke="#000" stroke-width="0.22">80</text>
<line x1="307.1" y1="54.3" x2="310" y2="54.3" stroke="#000" stroke-width="1"/>
<text x="305.1" y="56.9" font-size="8.1" text-anchor="end" fill="#000" font-weight="normal" stroke="#000" stroke-width="0.22">60</text>
<line x1="307.1" y1="81.05" x2="310" y2="81.05" stroke="#000" stroke-width="1"/>
<text x="305.1" y="83.65" font-size="8.1" text-anchor="end" fill="#000" font-weight="normal" stroke="#000" stroke-width="0.22">40</text>
<line x1="307.1" y1="107.8" x2="310" y2="107.8" stroke="#000" stroke-width="1"/>
<text x="305.1" y="110.4" font-size="8.1" text-anchor="end" fill="#000" font-weight="normal" stroke="#000" stroke-width="0.22">20</text>
<line x1="307.1" y1="134.5" x2="310" y2="134.5" stroke="#000" stroke-width="1"/>
<text x="305.1" y="137.1" font-size="8.1" text-anchor="end" fill="#000" font-weight="normal" stroke="#000" stroke-width="0.22">0</text>
<line x1="470.5" y1="28.1" x2="473.5" y2="28.1" stroke="#000" stroke-width="1"/>
<text x="476.7" y="30.8" font-size="8.1" text-anchor="start" fill="#000" font-weight="normal" stroke="#000" stroke-width="0.22">0.15</text>
<line x1="470.5" y1="63.6" x2="473.5" y2="63.6" stroke="#000" stroke-width="1"/>
<text x="476.7" y="66.3" font-size="8.1" text-anchor="start" fill="#000" font-weight="normal" stroke="#000" stroke-width="0.22">0.10</text>
<line x1="470.5" y1="99" x2="473.5" y2="99" stroke="#000" stroke-width="1"/>
<text x="476.7" y="101.7" font-size="8.1" text-anchor="start" fill="#000" font-weight="normal" stroke="#000" stroke-width="0.22">0.05</text>
<line x1="470.5" y1="134.5" x2="473.5" y2="134.5" stroke="#000" stroke-width="1"/>
<text x="476.7" y="137.2" font-size="8.1" text-anchor="start" fill="#000" font-weight="normal" stroke="#000" stroke-width="0.22">0.00</text>
<line x1="382.9" y1="134.5" x2="382.9" y2="137.5" stroke="#000" stroke-width="1"/>
<text x="384.1" y="146.7" font-size="8.1" text-anchor="middle" fill="#000" font-weight="normal" stroke="#000" stroke-width="0.22">500</text>
<line x1="455.8" y1="134.5" x2="455.8" y2="137.5" stroke="#000" stroke-width="1"/>
<text x="455.8" y="146.7" font-size="8.1" text-anchor="middle" fill="#000" font-weight="normal" stroke="#000" stroke-width="0.22">1000</text>
<text x="310" y="146.5" font-size="8.1" text-anchor="middle" fill="#000" font-weight="normal" stroke="#000" stroke-width="0.22">0</text>
<text x="347.6" y="141.6" font-size="8.1" text-anchor="middle" fill="#000" font-weight="normal" stroke="#000" stroke-width="0.22">297</text>
<text x="369" y="141.6" font-size="8.1" text-anchor="middle" fill="#000" font-weight="normal" stroke="#000" stroke-width="0.22">386</text>
<text x="0" y="0" font-size="8.6" text-anchor="middle" fill="#000" font-weight="normal" stroke="#000" stroke-width="0.22" transform="translate(390.1 160.2) scale(0.74 1)">Time, sec</text>
<text x="0" y="0" font-size="8.7" text-anchor="middle" fill="#000" font-weight="normal" stroke="#000" stroke-width="0.22" transform="translate(286.8 82) rotate(-90) scale(0.75 1)">Extent of contraction, %</text>
<text x="0" y="0" font-size="8.7" text-anchor="middle" fill="#38b046" font-weight="normal" stroke="#38b046" stroke-width="0.22" transform="translate(499.3 80.85) rotate(90) scale(0.75 1)">First derivative, %/s</text>
<text x="322.7" y="21" font-size="8.85" text-anchor="start" fill="#000" font-weight="normal" stroke="#000" stroke-width="0.22">Phase1−2 boundary</text>
<line x1="359.3" y1="29.6" x2="355.65" y2="35.3" stroke="#000" stroke-width="1.15"/>
<path d="M353.6 38.5L354.02 33.67L357.81 36.09Z" fill="#000"/>
<line x1="360.9" y1="29.6" x2="364.48" y2="35.28" stroke="#000" stroke-width="1.15"/>
<path d="M366.5 38.5L362.31 36.06L366.11 33.66Z" fill="#000"/>
<text x="316.8" y="150.8" font-size="8.8" text-anchor="start" fill="#000" font-weight="normal" stroke="#000" stroke-width="0.22">CNTRL</text>
<line x1="312.1" y1="154.2" x2="352.2" y2="154.2" stroke="#000" stroke-width="1.4"/>
<path d="M310.6 154.2L314.6 151.8L314.6 156.6Z" fill="#000"/>
<path d="M353.7 154.2L349.7 151.8L349.7 156.6Z" fill="#000"/>
<text x="326.9" y="164.2" font-size="8.8" text-anchor="start" fill="#000" font-weight="normal" stroke="#000" stroke-width="0.22">ALLN</text>
<line x1="316.9" y1="166.3" x2="367.5" y2="166.3" stroke="#000" stroke-width="1.4"/>
<path d="M315.4 166.3L319.4 163.9L319.4 168.7Z" fill="#000"/>
<path d="M369 166.3L365 163.9L365 168.7Z" fill="#000"/>
<line x1="426" y1="13.9" x2="439" y2="13.9" stroke="#cc1440" stroke-width="1.15" stroke-dasharray="1 0.8"/>
<circle cx="432.4" cy="13.9" r="1.45" fill="#cc1440"/>
<circle cx="432.4" cy="13.9" r="0.45" fill="#fff"/>
<line x1="426" y1="25.4" x2="438.4" y2="25.4" stroke="#1e5a96" stroke-width="1.7"/>
<circle cx="432.3" cy="25.4" r="1.6" fill="#1a4f88"/>
<text x="442" y="16.5" font-size="7.2" text-anchor="start" fill="#000" font-weight="normal" stroke="#000" stroke-width="0.22">Control</text>
<text x="442" y="28" font-size="7.2" text-anchor="start" fill="#000" font-weight="normal" stroke="#000" stroke-width="0.22">ALLN</text>
<line x1="37" y1="184.9" x2="37" y2="244.8" stroke="#111" stroke-width="1.35"/>
<line x1="37" y1="244.2" x2="125.2" y2="244.2" stroke="#111" stroke-width="1.3"/>
<line x1="34.1" y1="244.2" x2="37" y2="244.2" stroke="#111" stroke-width="1.1"/>
<text x="32.2" y="247.1" font-size="8.1" text-anchor="end" fill="#000" font-weight="normal" stroke="#000" stroke-width="0.22">0</text>
<line x1="34.1" y1="232.46" x2="37" y2="232.46" stroke="#111" stroke-width="1.1"/>
<text x="32.2" y="235.36" font-size="8.1" text-anchor="end" fill="#000" font-weight="normal" stroke="#000" stroke-width="0.22">20</text>
<line x1="34.1" y1="220.72" x2="37" y2="220.72" stroke="#111" stroke-width="1.1"/>
<text x="32.2" y="223.62" font-size="8.1" text-anchor="end" fill="#000" font-weight="normal" stroke="#000" stroke-width="0.22">40</text>
<line x1="34.1" y1="208.98" x2="37" y2="208.98" stroke="#111" stroke-width="1.1"/>
<text x="32.2" y="211.88" font-size="8.1" text-anchor="end" fill="#000" font-weight="normal" stroke="#000" stroke-width="0.22">60</text>
<line x1="34.1" y1="197.24" x2="37" y2="197.24" stroke="#111" stroke-width="1.1"/>
<text x="32.2" y="200.14" font-size="8.1" text-anchor="end" fill="#000" font-weight="normal" stroke="#000" stroke-width="0.22">80</text>
<line x1="34.1" y1="185.5" x2="37" y2="185.5" stroke="#111" stroke-width="1.1"/>
<text x="32.2" y="188.4" font-size="8.1" text-anchor="end" fill="#000" font-weight="normal" stroke="#000" stroke-width="0.22">100</text>
<text x="0" y="0" font-size="8.7" text-anchor="middle" fill="#000" font-weight="normal" stroke="#000" stroke-width="0.22" transform="translate(14.8 214.3) rotate(-90) scale(0.75 1)">Extent of contraction, %</text>
<text x="62.15" y="252.7" font-size="7.7" text-anchor="middle" fill="#000" font-weight="normal" stroke="#000" stroke-width="0.22">Control</text>
<text x="100.6" y="252.7" font-size="7.7" text-anchor="middle" fill="#000" font-weight="normal" stroke="#000" stroke-width="0.22">ALLM</text>
<line x1="62.1" y1="192.9" x2="99.8" y2="198.2" stroke="#111" stroke-width="0.95"/>
<line x1="62.1" y1="194.5" x2="99.8" y2="196.1" stroke="#111" stroke-width="0.95"/>
<line x1="62.1" y1="199.3" x2="99.8" y2="195" stroke="#111" stroke-width="0.95"/>
<line x1="62.1" y1="200.7" x2="99.8" y2="204.6" stroke="#111" stroke-width="0.95"/>
<line x1="62.1" y1="203" x2="99.8" y2="203" stroke="#111" stroke-width="0.95"/>
<line x1="62.1" y1="207.2" x2="99.8" y2="204.6" stroke="#111" stroke-width="0.95"/>
<line x1="62.1" y1="208.8" x2="99.8" y2="209.1" stroke="#111" stroke-width="0.95"/>
<line x1="62.1" y1="210" x2="99.8" y2="216.7" stroke="#111" stroke-width="0.95"/>
<line x1="62.1" y1="210.4" x2="99.8" y2="222" stroke="#111" stroke-width="0.95"/>
<circle cx="62.1" cy="192.9" r="1.4" fill="#cc1440"/>
<rect x="98.45" y="196.85" width="2.7" height="2.7" fill="#1e5a96"/>
<circle cx="62.1" cy="194.5" r="1.4" fill="#cc1440"/>
<rect x="98.45" y="194.75" width="2.7" height="2.7" fill="#1e5a96"/>
<circle cx="62.1" cy="199.3" r="1.4" fill="#cc1440"/>
<rect x="98.45" y="193.65" width="2.7" height="2.7" fill="#1e5a96"/>
<circle cx="62.1" cy="200.7" r="1.4" fill="#cc1440"/>
<rect x="98.45" y="203.25" width="2.7" height="2.7" fill="#1e5a96"/>
<circle cx="62.1" cy="203" r="1.4" fill="#cc1440"/>
<rect x="98.45" y="201.65" width="2.7" height="2.7" fill="#1e5a96"/>
<circle cx="62.1" cy="207.2" r="1.4" fill="#cc1440"/>
<rect x="98.45" y="203.25" width="2.7" height="2.7" fill="#1e5a96"/>
<circle cx="62.1" cy="208.8" r="1.4" fill="#cc1440"/>
<rect x="98.45" y="207.75" width="2.7" height="2.7" fill="#1e5a96"/>
<circle cx="62.1" cy="210" r="1.4" fill="#cc1440"/>
<rect x="98.45" y="215.35" width="2.7" height="2.7" fill="#1e5a96"/>
<circle cx="62.1" cy="210.4" r="1.4" fill="#cc1440"/>
<rect x="98.45" y="220.65" width="2.7" height="2.7" fill="#1e5a96"/>
<line x1="161" y1="185.6" x2="161" y2="245.1" stroke="#111" stroke-width="1.35"/>
<line x1="161" y1="244.5" x2="249" y2="244.5" stroke="#111" stroke-width="1.3"/>
<line x1="158.1" y1="244.5" x2="161" y2="244.5" stroke="#111" stroke-width="1.1"/>
<text x="156.2" y="247.4" font-size="8.1" text-anchor="end" fill="#000" font-weight="normal" stroke="#000" stroke-width="0.22">0</text>
<line x1="158.1" y1="232.84" x2="161" y2="232.84" stroke="#111" stroke-width="1.1"/>
<text x="156.2" y="235.74" font-size="8.1" text-anchor="end" fill="#000" font-weight="normal" stroke="#000" stroke-width="0.22">100</text>
<line x1="158.1" y1="221.18" x2="161" y2="221.18" stroke="#111" stroke-width="1.1"/>
<text x="156.2" y="224.08" font-size="8.1" text-anchor="end" fill="#000" font-weight="normal" stroke="#000" stroke-width="0.22">200</text>
<line x1="158.1" y1="209.52" x2="161" y2="209.52" stroke="#111" stroke-width="1.1"/>
<text x="156.2" y="212.42" font-size="8.1" text-anchor="end" fill="#000" font-weight="normal" stroke="#000" stroke-width="0.22">300</text>
<line x1="158.1" y1="197.86" x2="161" y2="197.86" stroke="#111" stroke-width="1.1"/>
<text x="156.2" y="200.76" font-size="8.1" text-anchor="end" fill="#000" font-weight="normal" stroke="#000" stroke-width="0.22">400</text>
<line x1="158.1" y1="186.2" x2="161" y2="186.2" stroke="#111" stroke-width="1.1"/>
<text x="156.2" y="189.1" font-size="8.1" text-anchor="end" fill="#000" font-weight="normal" stroke="#000" stroke-width="0.22">500</text>
<text x="0" y="0" font-size="8.7" text-anchor="middle" fill="#000" font-weight="normal" stroke="#000" stroke-width="0.22" transform="translate(137.8 215.35) rotate(-90) scale(0.74 1)">Lag time, s</text>
<text x="186.2" y="252.8" font-size="7.7" text-anchor="middle" fill="#000" font-weight="normal" stroke="#000" stroke-width="0.22">Control</text>
<text x="225" y="252.8" font-size="7.7" text-anchor="middle" fill="#000" font-weight="normal" stroke="#000" stroke-width="0.22">ALLM</text>
<line x1="186.2" y1="210.9" x2="223.9" y2="193.6" stroke="#111" stroke-width="0.95"/>
<line x1="186.2" y1="214" x2="223.9" y2="204.1" stroke="#111" stroke-width="0.95"/>
<line x1="186.2" y1="215.5" x2="223.9" y2="214.7" stroke="#111" stroke-width="0.95"/>
<line x1="186.2" y1="217.1" x2="223.9" y2="217.7" stroke="#111" stroke-width="0.95"/>
<line x1="186.2" y1="222.8" x2="223.9" y2="209.5" stroke="#111" stroke-width="0.95"/>
<line x1="186.2" y1="223.9" x2="223.9" y2="226.4" stroke="#111" stroke-width="0.95"/>
<line x1="186.2" y1="228.5" x2="223.9" y2="217.7" stroke="#111" stroke-width="0.95"/>
<line x1="186.2" y1="233.6" x2="223.9" y2="229.8" stroke="#111" stroke-width="0.95"/>
<circle cx="186.2" cy="210.9" r="1.4" fill="#cc1440"/>
<rect x="222.55" y="192.25" width="2.7" height="2.7" fill="#1e5a96"/>
<circle cx="186.2" cy="214" r="1.4" fill="#cc1440"/>
<rect x="222.55" y="202.75" width="2.7" height="2.7" fill="#1e5a96"/>
<circle cx="186.2" cy="215.5" r="1.4" fill="#cc1440"/>
<rect x="222.55" y="213.35" width="2.7" height="2.7" fill="#1e5a96"/>
<circle cx="186.2" cy="217.1" r="1.4" fill="#cc1440"/>
<rect x="222.55" y="216.35" width="2.7" height="2.7" fill="#1e5a96"/>
<circle cx="186.2" cy="222.8" r="1.4" fill="#cc1440"/>
<rect x="222.55" y="208.15" width="2.7" height="2.7" fill="#1e5a96"/>
<circle cx="186.2" cy="223.9" r="1.4" fill="#cc1440"/>
<rect x="222.55" y="225.05" width="2.7" height="2.7" fill="#1e5a96"/>
<circle cx="186.2" cy="228.5" r="1.4" fill="#cc1440"/>
<rect x="222.55" y="216.35" width="2.7" height="2.7" fill="#1e5a96"/>
<circle cx="186.2" cy="233.6" r="1.4" fill="#cc1440"/>
<rect x="222.55" y="228.45" width="2.7" height="2.7" fill="#1e5a96"/>
<path d="M186.2 188.3V184.8H223.9V188.3" fill="none" stroke="#555" stroke-width="1.15"/>
<circle cx="205" cy="181.6" r="0.95" fill="#111"/>
<line x1="37.5" y1="270.9" x2="37.5" y2="331.1" stroke="#111" stroke-width="1.35"/>
<line x1="37.5" y1="330.5" x2="125.5" y2="330.5" stroke="#111" stroke-width="1.3"/>
<line x1="34.6" y1="330.5" x2="37.5" y2="330.5" stroke="#111" stroke-width="1.1"/>
<text x="32.7" y="333.4" font-size="8.1" text-anchor="end" fill="#000" font-weight="normal" stroke="#000" stroke-width="0.22">0</text>
<line x1="34.6" y1="315.75" x2="37.5" y2="315.75" stroke="#111" stroke-width="1.1"/>
<text x="32.7" y="318.65" font-size="8.1" text-anchor="end" fill="#000" font-weight="normal" stroke="#000" stroke-width="0.22">200</text>
<line x1="34.6" y1="301" x2="37.5" y2="301" stroke="#111" stroke-width="1.1"/>
<text x="32.7" y="303.9" font-size="8.1" text-anchor="end" fill="#000" font-weight="normal" stroke="#000" stroke-width="0.22">400</text>
<line x1="34.6" y1="286.25" x2="37.5" y2="286.25" stroke="#111" stroke-width="1.1"/>
<text x="32.7" y="289.15" font-size="8.1" text-anchor="end" fill="#000" font-weight="normal" stroke="#000" stroke-width="0.22">600</text>
<line x1="34.6" y1="271.5" x2="37.5" y2="271.5" stroke="#111" stroke-width="1.1"/>
<text x="32.7" y="274.4" font-size="8.1" text-anchor="end" fill="#000" font-weight="normal" stroke="#000" stroke-width="0.22">800</text>
<text x="0" y="0" font-size="8.7" text-anchor="middle" fill="#000" font-weight="normal" stroke="#000" stroke-width="0.22" transform="translate(14.7 301) rotate(-90) scale(0.74 1)">Time to 25% retracted, s</text>
<text x="62.8" y="339" font-size="7.7" text-anchor="middle" fill="#000" font-weight="normal" stroke="#000" stroke-width="0.22">Control</text>
<text x="101.6" y="339" font-size="7.7" text-anchor="middle" fill="#000" font-weight="normal" stroke="#000" stroke-width="0.22">ALLM</text>
<line x1="62.7" y1="287.6" x2="100.4" y2="289.9" stroke="#111" stroke-width="0.95"/>
<line x1="62.7" y1="294.9" x2="100.4" y2="284.9" stroke="#111" stroke-width="0.95"/>
<line x1="62.7" y1="297.6" x2="100.4" y2="283.7" stroke="#111" stroke-width="0.95"/>
<line x1="62.7" y1="300.4" x2="100.4" y2="281.8" stroke="#111" stroke-width="0.95"/>
<line x1="62.7" y1="299.2" x2="100.4" y2="295.8" stroke="#111" stroke-width="0.95"/>
<line x1="62.7" y1="306.7" x2="100.4" y2="299.8" stroke="#111" stroke-width="0.95"/>
<line x1="62.7" y1="308.5" x2="100.4" y2="304.2" stroke="#111" stroke-width="0.95"/>
<line x1="62.7" y1="315.7" x2="100.4" y2="313.5" stroke="#111" stroke-width="0.95"/>
<circle cx="62.7" cy="287.6" r="1.4" fill="#cc1440"/>
<rect x="99.05" y="288.55" width="2.7" height="2.7" fill="#1e5a96"/>
<circle cx="62.7" cy="294.9" r="1.4" fill="#cc1440"/>
<rect x="99.05" y="283.55" width="2.7" height="2.7" fill="#1e5a96"/>
<circle cx="62.7" cy="297.6" r="1.4" fill="#cc1440"/>
<rect x="99.05" y="282.35" width="2.7" height="2.7" fill="#1e5a96"/>
<circle cx="62.7" cy="300.4" r="1.4" fill="#cc1440"/>
<rect x="99.05" y="280.45" width="2.7" height="2.7" fill="#1e5a96"/>
<circle cx="62.7" cy="299.2" r="1.4" fill="#cc1440"/>
<rect x="99.05" y="294.45" width="2.7" height="2.7" fill="#1e5a96"/>
<circle cx="62.7" cy="306.7" r="1.4" fill="#cc1440"/>
<rect x="99.05" y="298.45" width="2.7" height="2.7" fill="#1e5a96"/>
<circle cx="62.7" cy="308.5" r="1.4" fill="#cc1440"/>
<rect x="99.05" y="302.85" width="2.7" height="2.7" fill="#1e5a96"/>
<circle cx="62.7" cy="315.7" r="1.4" fill="#cc1440"/>
<rect x="99.05" y="312.15" width="2.7" height="2.7" fill="#1e5a96"/>
<path d="M61.7 276.2V273.1H100.2V276.2" fill="none" stroke="#555" stroke-width="1.15"/>
<circle cx="81.1" cy="269.7" r="0.95" fill="#111"/>
<line x1="162" y1="271.1" x2="162" y2="331.1" stroke="#111" stroke-width="1.35"/>
<line x1="162" y1="330.5" x2="249" y2="330.5" stroke="#111" stroke-width="1.3"/>
<line x1="159.1" y1="330.5" x2="162" y2="330.5" stroke="#111" stroke-width="1.1"/>
<text x="157.2" y="333.4" font-size="8.1" text-anchor="end" fill="#000" font-weight="normal" stroke="#000" stroke-width="0.22">0</text>
<line x1="159.1" y1="315.8" x2="162" y2="315.8" stroke="#111" stroke-width="1.1"/>
<text x="157.2" y="318.7" font-size="8.1" text-anchor="end" fill="#000" font-weight="normal" stroke="#000" stroke-width="0.22">200</text>
<line x1="159.1" y1="301.1" x2="162" y2="301.1" stroke="#111" stroke-width="1.1"/>
<text x="157.2" y="304" font-size="8.1" text-anchor="end" fill="#000" font-weight="normal" stroke="#000" stroke-width="0.22">400</text>
<line x1="159.1" y1="286.4" x2="162" y2="286.4" stroke="#111" stroke-width="1.1"/>
<text x="157.2" y="289.3" font-size="8.1" text-anchor="end" fill="#000" font-weight="normal" stroke="#000" stroke-width="0.22">600</text>
<line x1="159.1" y1="271.7" x2="162" y2="271.7" stroke="#111" stroke-width="1.1"/>
<text x="157.2" y="274.6" font-size="8.1" text-anchor="end" fill="#000" font-weight="normal" stroke="#000" stroke-width="0.22">800</text>
<text x="0" y="0" font-size="8.7" text-anchor="middle" fill="#000" font-weight="normal" stroke="#000" stroke-width="0.22" transform="translate(138.5 301) rotate(-90) scale(0.75 1)">Time to reach 50% of final, s</text>
<text x="187" y="339" font-size="7.7" text-anchor="middle" fill="#000" font-weight="normal" stroke="#000" stroke-width="0.22">Control</text>
<text x="225.5" y="339" font-size="7.7" text-anchor="middle" fill="#000" font-weight="normal" stroke="#000" stroke-width="0.22">ALLM</text>
<line x1="186.6" y1="282.7" x2="224.3" y2="283.8" stroke="#111" stroke-width="0.95"/>
<line x1="186.6" y1="284.7" x2="224.3" y2="275.7" stroke="#111" stroke-width="0.95"/>
<line x1="186.6" y1="290.6" x2="224.3" y2="288.9" stroke="#111" stroke-width="0.95"/>
<line x1="186.6" y1="294.6" x2="224.3" y2="294.6" stroke="#111" stroke-width="0.95"/>
<line x1="186.6" y1="295.7" x2="224.3" y2="292.3" stroke="#111" stroke-width="0.95"/>
<line x1="186.6" y1="300.8" x2="224.3" y2="290.6" stroke="#111" stroke-width="0.95"/>
<line x1="186.6" y1="302.5" x2="224.3" y2="300.2" stroke="#111" stroke-width="0.95"/>
<line x1="186.6" y1="309.6" x2="224.3" y2="304.8" stroke="#111" stroke-width="0.95"/>
<circle cx="186.6" cy="282.7" r="1.4" fill="#cc1440"/>
<rect x="222.95" y="282.45" width="2.7" height="2.7" fill="#1e5a96"/>
<circle cx="186.6" cy="284.7" r="1.4" fill="#cc1440"/>
<rect x="222.95" y="274.35" width="2.7" height="2.7" fill="#1e5a96"/>
<circle cx="186.6" cy="290.6" r="1.4" fill="#cc1440"/>
<rect x="222.95" y="287.55" width="2.7" height="2.7" fill="#1e5a96"/>
<circle cx="186.6" cy="294.6" r="1.4" fill="#cc1440"/>
<rect x="222.95" y="293.25" width="2.7" height="2.7" fill="#1e5a96"/>
<circle cx="186.6" cy="295.7" r="1.4" fill="#cc1440"/>
<rect x="222.95" y="290.95" width="2.7" height="2.7" fill="#1e5a96"/>
<circle cx="186.6" cy="300.8" r="1.4" fill="#cc1440"/>
<rect x="222.95" y="289.25" width="2.7" height="2.7" fill="#1e5a96"/>
<circle cx="186.6" cy="302.5" r="1.4" fill="#cc1440"/>
<rect x="222.95" y="298.85" width="2.7" height="2.7" fill="#1e5a96"/>
<circle cx="186.6" cy="309.6" r="1.4" fill="#cc1440"/>
<rect x="222.95" y="303.45" width="2.7" height="2.7" fill="#1e5a96"/>
<line x1="98.5" y1="363.9" x2="98.5" y2="423.7" stroke="#111" stroke-width="1.35"/>
<line x1="98.5" y1="423.1" x2="186.3" y2="423.1" stroke="#111" stroke-width="1.3"/>
<line x1="95.6" y1="423.1" x2="98.5" y2="423.1" stroke="#111" stroke-width="1.1"/>
<text x="93.7" y="426" font-size="8.1" text-anchor="end" fill="#000" font-weight="normal" stroke="#000" stroke-width="0.22">0</text>
<line x1="95.6" y1="408.45" x2="98.5" y2="408.45" stroke="#111" stroke-width="1.1"/>
<text x="93.7" y="411.35" font-size="8.1" text-anchor="end" fill="#000" font-weight="normal" stroke="#000" stroke-width="0.22">200</text>
<line x1="95.6" y1="393.8" x2="98.5" y2="393.8" stroke="#111" stroke-width="1.1"/>
<text x="93.7" y="396.7" font-size="8.1" text-anchor="end" fill="#000" font-weight="normal" stroke="#000" stroke-width="0.22">400</text>
<line x1="95.6" y1="379.15" x2="98.5" y2="379.15" stroke="#111" stroke-width="1.1"/>
<text x="93.7" y="382.05" font-size="8.1" text-anchor="end" fill="#000" font-weight="normal" stroke="#000" stroke-width="0.22">600</text>
<line x1="95.6" y1="364.5" x2="98.5" y2="364.5" stroke="#111" stroke-width="1.1"/>
<text x="93.7" y="367.4" font-size="8.1" text-anchor="end" fill="#000" font-weight="normal" stroke="#000" stroke-width="0.22">800</text>
<text x="0" y="0" font-size="8.7" text-anchor="middle" fill="#000" font-weight="normal" stroke="#000" stroke-width="0.22" transform="translate(75.8 393.8) rotate(-90) scale(0.76 1)">Area under the curve, a.u.*s</text>
<text x="123.4" y="431.1" font-size="7.7" text-anchor="middle" fill="#000" font-weight="normal" stroke="#000" stroke-width="0.22">Control</text>
<text x="162.1" y="431.1" font-size="7.7" text-anchor="middle" fill="#000" font-weight="normal" stroke="#000" stroke-width="0.22">ALLM</text>
<line x1="123.1" y1="376.1" x2="160.8" y2="374.9" stroke="#111" stroke-width="0.95"/>
<line x1="123.1" y1="376.1" x2="160.8" y2="383" stroke="#111" stroke-width="0.95"/>
<line x1="123.1" y1="385.1" x2="160.8" y2="386.7" stroke="#111" stroke-width="0.95"/>
<line x1="123.1" y1="385.1" x2="160.8" y2="394.8" stroke="#111" stroke-width="0.95"/>
<line x1="123.1" y1="392.1" x2="160.8" y2="394.8" stroke="#111" stroke-width="0.95"/>
<line x1="123.1" y1="393.6" x2="160.8" y2="396.7" stroke="#111" stroke-width="0.95"/>
<line x1="123.1" y1="395" x2="160.8" y2="402.3" stroke="#111" stroke-width="0.95"/>
<line x1="123.1" y1="397" x2="160.8" y2="404.5" stroke="#111" stroke-width="0.95"/>
<circle cx="123.1" cy="376.1" r="1.4" fill="#cc1440"/>
<rect x="159.45" y="373.55" width="2.7" height="2.7" fill="#1e5a96"/>
<circle cx="123.1" cy="376.1" r="1.4" fill="#cc1440"/>
<rect x="159.45" y="381.65" width="2.7" height="2.7" fill="#1e5a96"/>
<circle cx="123.1" cy="385.1" r="1.4" fill="#cc1440"/>
<rect x="159.45" y="385.35" width="2.7" height="2.7" fill="#1e5a96"/>
<circle cx="123.1" cy="385.1" r="1.4" fill="#cc1440"/>
<rect x="159.45" y="393.45" width="2.7" height="2.7" fill="#1e5a96"/>
<circle cx="123.1" cy="392.1" r="1.4" fill="#cc1440"/>
<rect x="159.45" y="393.45" width="2.7" height="2.7" fill="#1e5a96"/>
<circle cx="123.1" cy="393.6" r="1.4" fill="#cc1440"/>
<rect x="159.45" y="395.35" width="2.7" height="2.7" fill="#1e5a96"/>
<circle cx="123.1" cy="395" r="1.4" fill="#cc1440"/>
<rect x="159.45" y="400.95" width="2.7" height="2.7" fill="#1e5a96"/>
<circle cx="123.1" cy="397" r="1.4" fill="#cc1440"/>
<rect x="159.45" y="403.15" width="2.7" height="2.7" fill="#1e5a96"/>
<path d="M122.7 370.5V366.6H160.8V370.5" fill="none" stroke="#555" stroke-width="1.15"/>
<circle cx="141.7" cy="363.5" r="0.95" fill="#111"/>
<line x1="303" y1="184.9" x2="303" y2="245.1" stroke="#111" stroke-width="1.35"/>
<line x1="303" y1="244.5" x2="391" y2="244.5" stroke="#111" stroke-width="1.3"/>
<line x1="300.1" y1="244.5" x2="303" y2="244.5" stroke="#111" stroke-width="1.1"/>
<text x="298.2" y="247.4" font-size="8.1" text-anchor="end" fill="#000" font-weight="normal" stroke="#000" stroke-width="0.22">40</text>
<line x1="300.1" y1="224.83" x2="303" y2="224.83" stroke="#111" stroke-width="1.1"/>
<text x="298.2" y="227.73" font-size="8.1" text-anchor="end" fill="#000" font-weight="normal" stroke="#000" stroke-width="0.22">60</text>
<line x1="300.1" y1="205.17" x2="303" y2="205.17" stroke="#111" stroke-width="1.1"/>
<text x="298.2" y="208.07" font-size="8.1" text-anchor="end" fill="#000" font-weight="normal" stroke="#000" stroke-width="0.22">80</text>
<line x1="300.1" y1="185.5" x2="303" y2="185.5" stroke="#111" stroke-width="1.1"/>
<text x="298.2" y="188.4" font-size="8.1" text-anchor="end" fill="#000" font-weight="normal" stroke="#000" stroke-width="0.22">100</text>
<text x="0" y="0" font-size="8.7" text-anchor="middle" fill="#000" font-weight="normal" stroke="#000" stroke-width="0.22" transform="translate(277.2 214.7) rotate(-90) scale(0.75 1)">Extent of contraction, %</text>
<text x="328.2" y="252.8" font-size="7.7" text-anchor="middle" fill="#000" font-weight="normal" stroke="#000" stroke-width="0.22">Control</text>
<text x="366.6" y="252.8" font-size="7.7" text-anchor="middle" fill="#000" font-weight="normal" stroke="#000" stroke-width="0.22">ALLN</text>
<line x1="327.7" y1="196.8" x2="365.5" y2="196.2" stroke="#111" stroke-width="0.95"/>
<line x1="327.7" y1="196.8" x2="365.5" y2="197.9" stroke="#111" stroke-width="0.95"/>
<line x1="327.7" y1="201.1" x2="365.5" y2="200.4" stroke="#111" stroke-width="0.95"/>
<line x1="327.7" y1="203.3" x2="365.5" y2="222.2" stroke="#111" stroke-width="0.95"/>
<line x1="327.7" y1="220.5" x2="365.5" y2="220" stroke="#111" stroke-width="0.95"/>
<line x1="327.7" y1="228.2" x2="365.5" y2="226.4" stroke="#111" stroke-width="0.95"/>
<line x1="327.7" y1="229" x2="365.5" y2="230.2" stroke="#111" stroke-width="0.95"/>
<line x1="327.7" y1="232.2" x2="365.5" y2="232.4" stroke="#111" stroke-width="0.95"/>
<circle cx="327.7" cy="196.8" r="1.4" fill="#cc1440"/>
<rect x="364.15" y="194.85" width="2.7" height="2.7" fill="#1e5a96"/>
<circle cx="327.7" cy="196.8" r="1.4" fill="#cc1440"/>
<rect x="364.15" y="196.55" width="2.7" height="2.7" fill="#1e5a96"/>
<circle cx="327.7" cy="201.1" r="1.4" fill="#cc1440"/>
<rect x="364.15" y="199.05" width="2.7" height="2.7" fill="#1e5a96"/>
<circle cx="327.7" cy="203.3" r="1.4" fill="#cc1440"/>
<rect x="364.15" y="220.85" width="2.7" height="2.7" fill="#1e5a96"/>
<circle cx="327.7" cy="220.5" r="1.4" fill="#cc1440"/>
<rect x="364.15" y="218.65" width="2.7" height="2.7" fill="#1e5a96"/>
<circle cx="327.7" cy="228.2" r="1.4" fill="#cc1440"/>
<rect x="364.15" y="225.05" width="2.7" height="2.7" fill="#1e5a96"/>
<circle cx="327.7" cy="229" r="1.4" fill="#cc1440"/>
<rect x="364.15" y="228.85" width="2.7" height="2.7" fill="#1e5a96"/>
<circle cx="327.7" cy="232.2" r="1.4" fill="#cc1440"/>
<rect x="364.15" y="231.05" width="2.7" height="2.7" fill="#1e5a96"/>
<line x1="425.5" y1="185.6" x2="425.5" y2="245.6" stroke="#111" stroke-width="1.35"/>
<line x1="425.5" y1="245" x2="513.1" y2="245" stroke="#111" stroke-width="1.3"/>
<line x1="422.6" y1="245" x2="425.5" y2="245" stroke="#111" stroke-width="1.1"/>
<text x="420.7" y="247.9" font-size="8.1" text-anchor="end" fill="#000" font-weight="normal" stroke="#000" stroke-width="0.22">0</text>
<line x1="422.6" y1="230.3" x2="425.5" y2="230.3" stroke="#111" stroke-width="1.1"/>
<text x="420.7" y="233.2" font-size="8.1" text-anchor="end" fill="#000" font-weight="normal" stroke="#000" stroke-width="0.22">100</text>
<line x1="422.6" y1="215.6" x2="425.5" y2="215.6" stroke="#111" stroke-width="1.1"/>
<text x="420.7" y="218.5" font-size="8.1" text-anchor="end" fill="#000" font-weight="normal" stroke="#000" stroke-width="0.22">200</text>
<line x1="422.6" y1="200.9" x2="425.5" y2="200.9" stroke="#111" stroke-width="1.1"/>
<text x="420.7" y="203.8" font-size="8.1" text-anchor="end" fill="#000" font-weight="normal" stroke="#000" stroke-width="0.22">300</text>
<line x1="422.6" y1="186.2" x2="425.5" y2="186.2" stroke="#111" stroke-width="1.1"/>
<text x="420.7" y="189.1" font-size="8.1" text-anchor="end" fill="#000" font-weight="normal" stroke="#000" stroke-width="0.22">400</text>
<text x="0" y="0" font-size="8.7" text-anchor="middle" fill="#000" font-weight="normal" stroke="#000" stroke-width="0.22" transform="translate(401.7 215.2) rotate(-90) scale(0.73 1)">Lag time, s</text>
<text x="450.6" y="252.8" font-size="7.7" text-anchor="middle" fill="#000" font-weight="normal" stroke="#000" stroke-width="0.22">Control</text>
<text x="489" y="252.8" font-size="7.7" text-anchor="middle" fill="#000" font-weight="normal" stroke="#000" stroke-width="0.22">ALLN</text>
<line x1="449.3" y1="206.4" x2="485.6" y2="200.5" stroke="#111" stroke-width="0.95"/>
<line x1="449.3" y1="208" x2="485.6" y2="200.5" stroke="#111" stroke-width="0.95"/>
<line x1="449.3" y1="213" x2="485.6" y2="192.2" stroke="#111" stroke-width="0.95"/>
<line x1="449.3" y1="217.1" x2="485.6" y2="214.8" stroke="#111" stroke-width="0.95"/>
<line x1="449.3" y1="222.9" x2="485.6" y2="216.3" stroke="#111" stroke-width="0.95"/>
<line x1="449.3" y1="224.8" x2="485.6" y2="216.3" stroke="#111" stroke-width="0.95"/>
<line x1="449.3" y1="227.3" x2="485.6" y2="223.5" stroke="#111" stroke-width="0.95"/>
<circle cx="449.3" cy="206.4" r="1.4" fill="#cc1440"/>
<rect x="484.25" y="199.15" width="2.7" height="2.7" fill="#1e5a96"/>
<circle cx="449.3" cy="208" r="1.4" fill="#cc1440"/>
<rect x="484.25" y="199.15" width="2.7" height="2.7" fill="#1e5a96"/>
<circle cx="449.3" cy="213" r="1.4" fill="#cc1440"/>
<rect x="484.25" y="190.85" width="2.7" height="2.7" fill="#1e5a96"/>
<circle cx="449.3" cy="217.1" r="1.4" fill="#cc1440"/>
<rect x="484.25" y="213.45" width="2.7" height="2.7" fill="#1e5a96"/>
<circle cx="449.3" cy="222.9" r="1.4" fill="#cc1440"/>
<rect x="484.25" y="214.95" width="2.7" height="2.7" fill="#1e5a96"/>
<circle cx="449.3" cy="224.8" r="1.4" fill="#cc1440"/>
<rect x="484.25" y="214.95" width="2.7" height="2.7" fill="#1e5a96"/>
<circle cx="449.3" cy="227.3" r="1.4" fill="#cc1440"/>
<rect x="484.25" y="222.15" width="2.7" height="2.7" fill="#1e5a96"/>
<path d="M448.1 189V185.3H486.3V189" fill="none" stroke="#555" stroke-width="1.15"/>
<circle cx="467.1" cy="182.2" r="0.95" fill="#111"/>
<line x1="302.7" y1="269.9" x2="302.7" y2="329.9" stroke="#111" stroke-width="1.35"/>
<line x1="302.7" y1="329.3" x2="390.5" y2="329.3" stroke="#111" stroke-width="1.3"/>
<line x1="299.8" y1="329.3" x2="302.7" y2="329.3" stroke="#111" stroke-width="1.1"/>
<text x="297.9" y="332.2" font-size="8.1" text-anchor="end" fill="#000" font-weight="normal" stroke="#000" stroke-width="0.22">0</text>
<line x1="299.8" y1="317.54" x2="302.7" y2="317.54" stroke="#111" stroke-width="1.1"/>
<text x="297.9" y="320.44" font-size="8.1" text-anchor="end" fill="#000" font-weight="normal" stroke="#000" stroke-width="0.22">200</text>
<line x1="299.8" y1="305.78" x2="302.7" y2="305.78" stroke="#111" stroke-width="1.1"/>
<text x="297.9" y="308.68" font-size="8.1" text-anchor="end" fill="#000" font-weight="normal" stroke="#000" stroke-width="0.22">400</text>
<line x1="299.8" y1="294.02" x2="302.7" y2="294.02" stroke="#111" stroke-width="1.1"/>
<text x="297.9" y="296.92" font-size="8.1" text-anchor="end" fill="#000" font-weight="normal" stroke="#000" stroke-width="0.22">600</text>
<line x1="299.8" y1="282.26" x2="302.7" y2="282.26" stroke="#111" stroke-width="1.1"/>
<text x="297.9" y="285.16" font-size="8.1" text-anchor="end" fill="#000" font-weight="normal" stroke="#000" stroke-width="0.22">800</text>
<line x1="299.8" y1="270.5" x2="302.7" y2="270.5" stroke="#111" stroke-width="1.1"/>
<text x="297.9" y="273.4" font-size="8.1" text-anchor="end" fill="#000" font-weight="normal" stroke="#000" stroke-width="0.22">1000</text>
<text x="0" y="0" font-size="8.7" text-anchor="middle" fill="#000" font-weight="normal" stroke="#000" stroke-width="0.22" transform="translate(277.2 299.8) rotate(-90) scale(0.74 1)">Time to 25% retracted, s</text>
<text x="327.9" y="339.2" font-size="7.7" text-anchor="middle" fill="#000" font-weight="normal" stroke="#000" stroke-width="0.22">Control</text>
<text x="366.5" y="339.2" font-size="7.7" text-anchor="middle" fill="#000" font-weight="normal" stroke="#000" stroke-width="0.22">ALLN</text>
<line x1="327.2" y1="292.8" x2="364.4" y2="280.6" stroke="#111" stroke-width="0.95"/>
<line x1="327.2" y1="292.8" x2="364.4" y2="286.7" stroke="#111" stroke-width="0.95"/>
<line x1="327.2" y1="296.4" x2="364.4" y2="301.4" stroke="#111" stroke-width="0.95"/>
<line x1="327.2" y1="307.7" x2="364.4" y2="284.3" stroke="#111" stroke-width="0.95"/>
<line x1="327.2" y1="309" x2="364.4" y2="301.4" stroke="#111" stroke-width="0.95"/>
<line x1="327.2" y1="315.5" x2="364.4" y2="313.8" stroke="#111" stroke-width="0.95"/>
<line x1="327.2" y1="315.8" x2="364.4" y2="314.5" stroke="#111" stroke-width="0.95"/>
<circle cx="327.2" cy="292.8" r="1.4" fill="#cc1440"/>
<rect x="363.05" y="279.25" width="2.7" height="2.7" fill="#1e5a96"/>
<circle cx="327.2" cy="292.8" r="1.4" fill="#cc1440"/>
<rect x="363.05" y="285.35" width="2.7" height="2.7" fill="#1e5a96"/>
<circle cx="327.2" cy="296.4" r="1.4" fill="#cc1440"/>
<rect x="363.05" y="300.05" width="2.7" height="2.7" fill="#1e5a96"/>
<circle cx="327.2" cy="307.7" r="1.4" fill="#cc1440"/>
<rect x="363.05" y="282.95" width="2.7" height="2.7" fill="#1e5a96"/>
<circle cx="327.2" cy="309" r="1.4" fill="#cc1440"/>
<rect x="363.05" y="300.05" width="2.7" height="2.7" fill="#1e5a96"/>
<circle cx="327.2" cy="315.5" r="1.4" fill="#cc1440"/>
<rect x="363.05" y="312.45" width="2.7" height="2.7" fill="#1e5a96"/>
<circle cx="327.2" cy="315.8" r="1.4" fill="#cc1440"/>
<rect x="363.05" y="313.15" width="2.7" height="2.7" fill="#1e5a96"/>
<path d="M325.9 274.7V271.2H364.4V274.7" fill="none" stroke="#555" stroke-width="1.15"/>
<circle cx="345.6" cy="267.5" r="0.95" fill="#111"/>
<line x1="425.1" y1="270" x2="425.1" y2="329.8" stroke="#111" stroke-width="1.35"/>
<line x1="425.1" y1="329.2" x2="512.8" y2="329.2" stroke="#111" stroke-width="1.3"/>
<line x1="422.2" y1="329.2" x2="425.1" y2="329.2" stroke="#111" stroke-width="1.1"/>
<text x="420.3" y="332.1" font-size="8.1" text-anchor="end" fill="#000" font-weight="normal" stroke="#000" stroke-width="0.22">0</text>
<line x1="422.2" y1="317.48" x2="425.1" y2="317.48" stroke="#111" stroke-width="1.1"/>
<text x="420.3" y="320.38" font-size="8.1" text-anchor="end" fill="#000" font-weight="normal" stroke="#000" stroke-width="0.22">200</text>
<line x1="422.2" y1="305.76" x2="425.1" y2="305.76" stroke="#111" stroke-width="1.1"/>
<text x="420.3" y="308.66" font-size="8.1" text-anchor="end" fill="#000" font-weight="normal" stroke="#000" stroke-width="0.22">400</text>
<line x1="422.2" y1="294.04" x2="425.1" y2="294.04" stroke="#111" stroke-width="1.1"/>
<text x="420.3" y="296.94" font-size="8.1" text-anchor="end" fill="#000" font-weight="normal" stroke="#000" stroke-width="0.22">600</text>
<line x1="422.2" y1="282.32" x2="425.1" y2="282.32" stroke="#111" stroke-width="1.1"/>
<text x="420.3" y="285.22" font-size="8.1" text-anchor="end" fill="#000" font-weight="normal" stroke="#000" stroke-width="0.22">800</text>
<line x1="422.2" y1="270.6" x2="425.1" y2="270.6" stroke="#111" stroke-width="1.1"/>
<text x="420.3" y="273.5" font-size="8.1" text-anchor="end" fill="#000" font-weight="normal" stroke="#000" stroke-width="0.22">1000</text>
<text x="0" y="0" font-size="8.7" text-anchor="middle" fill="#000" font-weight="normal" stroke="#000" stroke-width="0.22" transform="translate(402 300) rotate(-90) scale(0.75 1)">Time to reach 50% of final, s</text>
<text x="450.2" y="339.2" font-size="7.7" text-anchor="middle" fill="#000" font-weight="normal" stroke="#000" stroke-width="0.22">Control</text>
<text x="488.9" y="339.2" font-size="7.7" text-anchor="middle" fill="#000" font-weight="normal" stroke="#000" stroke-width="0.22">ALLN</text>
<line x1="450" y1="288.1" x2="487.2" y2="277.4" stroke="#111" stroke-width="0.95"/>
<line x1="450" y1="290.4" x2="487.2" y2="284.7" stroke="#111" stroke-width="0.95"/>
<line x1="450" y1="293.5" x2="487.2" y2="298.3" stroke="#111" stroke-width="0.95"/>
<line x1="450" y1="299.6" x2="487.2" y2="277.4" stroke="#111" stroke-width="0.95"/>
<line x1="450" y1="304.5" x2="487.2" y2="297.1" stroke="#111" stroke-width="0.95"/>
<line x1="450" y1="305.3" x2="487.2" y2="298.3" stroke="#111" stroke-width="0.95"/>
<line x1="450" y1="310.2" x2="487.2" y2="309" stroke="#111" stroke-width="0.95"/>
<line x1="450" y1="312.4" x2="487.2" y2="309" stroke="#111" stroke-width="0.95"/>
<circle cx="450" cy="288.1" r="1.4" fill="#cc1440"/>
<rect x="485.85" y="276.05" width="2.7" height="2.7" fill="#1e5a96"/>
<circle cx="450" cy="290.4" r="1.4" fill="#cc1440"/>
<rect x="485.85" y="283.35" width="2.7" height="2.7" fill="#1e5a96"/>
<circle cx="450" cy="293.5" r="1.4" fill="#cc1440"/>
<rect x="485.85" y="296.95" width="2.7" height="2.7" fill="#1e5a96"/>
<circle cx="450" cy="299.6" r="1.4" fill="#cc1440"/>
<rect x="485.85" y="276.05" width="2.7" height="2.7" fill="#1e5a96"/>
<circle cx="450" cy="304.5" r="1.4" fill="#cc1440"/>
<rect x="485.85" y="295.75" width="2.7" height="2.7" fill="#1e5a96"/>
<circle cx="450" cy="305.3" r="1.4" fill="#cc1440"/>
<rect x="485.85" y="296.95" width="2.7" height="2.7" fill="#1e5a96"/>
<circle cx="450" cy="310.2" r="1.4" fill="#cc1440"/>
<rect x="485.85" y="307.65" width="2.7" height="2.7" fill="#1e5a96"/>
<circle cx="450" cy="312.4" r="1.4" fill="#cc1440"/>
<rect x="485.85" y="307.65" width="2.7" height="2.7" fill="#1e5a96"/>
<path d="M448.5 271.4V267.9H486.6V271.4" fill="none" stroke="#555" stroke-width="1.15"/>
<circle cx="468" cy="264.7" r="0.95" fill="#111"/>
<line x1="368" y1="363.15" x2="368" y2="423.1" stroke="#111" stroke-width="1.35"/>
<line x1="368" y1="422.5" x2="455.8" y2="422.5" stroke="#111" stroke-width="1.3"/>
<line x1="365.1" y1="422.5" x2="368" y2="422.5" stroke="#111" stroke-width="1.1"/>
<text x="363.2" y="425.4" font-size="8.1" text-anchor="end" fill="#000" font-weight="normal" stroke="#000" stroke-width="0.22">0</text>
<line x1="365.1" y1="407.81" x2="368" y2="407.81" stroke="#111" stroke-width="1.1"/>
<text x="363.2" y="410.71" font-size="8.1" text-anchor="end" fill="#000" font-weight="normal" stroke="#000" stroke-width="0.22">200</text>
<line x1="365.1" y1="393.12" x2="368" y2="393.12" stroke="#111" stroke-width="1.1"/>
<text x="363.2" y="396.02" font-size="8.1" text-anchor="end" fill="#000" font-weight="normal" stroke="#000" stroke-width="0.22">400</text>
<line x1="365.1" y1="378.44" x2="368" y2="378.44" stroke="#111" stroke-width="1.1"/>
<text x="363.2" y="381.34" font-size="8.1" text-anchor="end" fill="#000" font-weight="normal" stroke="#000" stroke-width="0.22">600</text>
<line x1="365.1" y1="363.75" x2="368" y2="363.75" stroke="#111" stroke-width="1.1"/>
<text x="363.2" y="366.65" font-size="8.1" text-anchor="end" fill="#000" font-weight="normal" stroke="#000" stroke-width="0.22">800</text>
<text x="0" y="0" font-size="8.7" text-anchor="middle" fill="#000" font-weight="normal" stroke="#000" stroke-width="0.22" transform="translate(346.7 392.9) rotate(-90) scale(0.76 1)">Area under the curve, a.u.*s</text>
<text x="393.2" y="430.1" font-size="7.7" text-anchor="middle" fill="#000" font-weight="normal" stroke="#000" stroke-width="0.22">Control</text>
<text x="431.9" y="430.1" font-size="7.7" text-anchor="middle" fill="#000" font-weight="normal" stroke="#000" stroke-width="0.22">ALLN</text>
<line x1="393.2" y1="369" x2="430.5" y2="372.1" stroke="#111" stroke-width="0.95"/>
<line x1="393.2" y1="374.8" x2="430.5" y2="381.2" stroke="#111" stroke-width="0.95"/>
<line x1="393.2" y1="381.6" x2="430.5" y2="402.3" stroke="#111" stroke-width="0.95"/>
<line x1="393.2" y1="387.6" x2="430.5" y2="390" stroke="#111" stroke-width="0.95"/>
<line x1="393.2" y1="389.8" x2="430.5" y2="400.6" stroke="#111" stroke-width="0.95"/>
<line x1="393.2" y1="395.2" x2="430.5" y2="398.9" stroke="#111" stroke-width="0.95"/>
<line x1="393.2" y1="398.9" x2="430.5" y2="395.2" stroke="#111" stroke-width="0.95"/>
<line x1="393.2" y1="403.6" x2="430.5" y2="406.3" stroke="#111" stroke-width="0.95"/>
<circle cx="393.2" cy="369" r="1.4" fill="#cc1440"/>
<rect x="429.15" y="370.75" width="2.7" height="2.7" fill="#1e5a96"/>
<circle cx="393.2" cy="374.8" r="1.4" fill="#cc1440"/>
<rect x="429.15" y="379.85" width="2.7" height="2.7" fill="#1e5a96"/>
<circle cx="393.2" cy="381.6" r="1.4" fill="#cc1440"/>
<rect x="429.15" y="400.95" width="2.7" height="2.7" fill="#1e5a96"/>
<circle cx="393.2" cy="387.6" r="1.4" fill="#cc1440"/>
<rect x="429.15" y="388.65" width="2.7" height="2.7" fill="#1e5a96"/>
<circle cx="393.2" cy="389.8" r="1.4" fill="#cc1440"/>
<rect x="429.15" y="399.25" width="2.7" height="2.7" fill="#1e5a96"/>
<circle cx="393.2" cy="395.2" r="1.4" fill="#cc1440"/>
<rect x="429.15" y="397.55" width="2.7" height="2.7" fill="#1e5a96"/>
<circle cx="393.2" cy="398.9" r="1.4" fill="#cc1440"/>
<rect x="429.15" y="393.85" width="2.7" height="2.7" fill="#1e5a96"/>
<circle cx="393.2" cy="403.6" r="1.4" fill="#cc1440"/>
<rect x="429.15" y="404.95" width="2.7" height="2.7" fill="#1e5a96"/>
<path d="M392.5 365.6V361.5H430.8V365.6" fill="none" stroke="#555" stroke-width="1.15"/>
<circle cx="412.2" cy="358.1" r="0.95" fill="#111"/>
<rect x="0.6" y="0.6" width="518.8" height="440.8" fill="none" stroke="#000" stroke-width="1.3"/>
</svg>
</body></html>
